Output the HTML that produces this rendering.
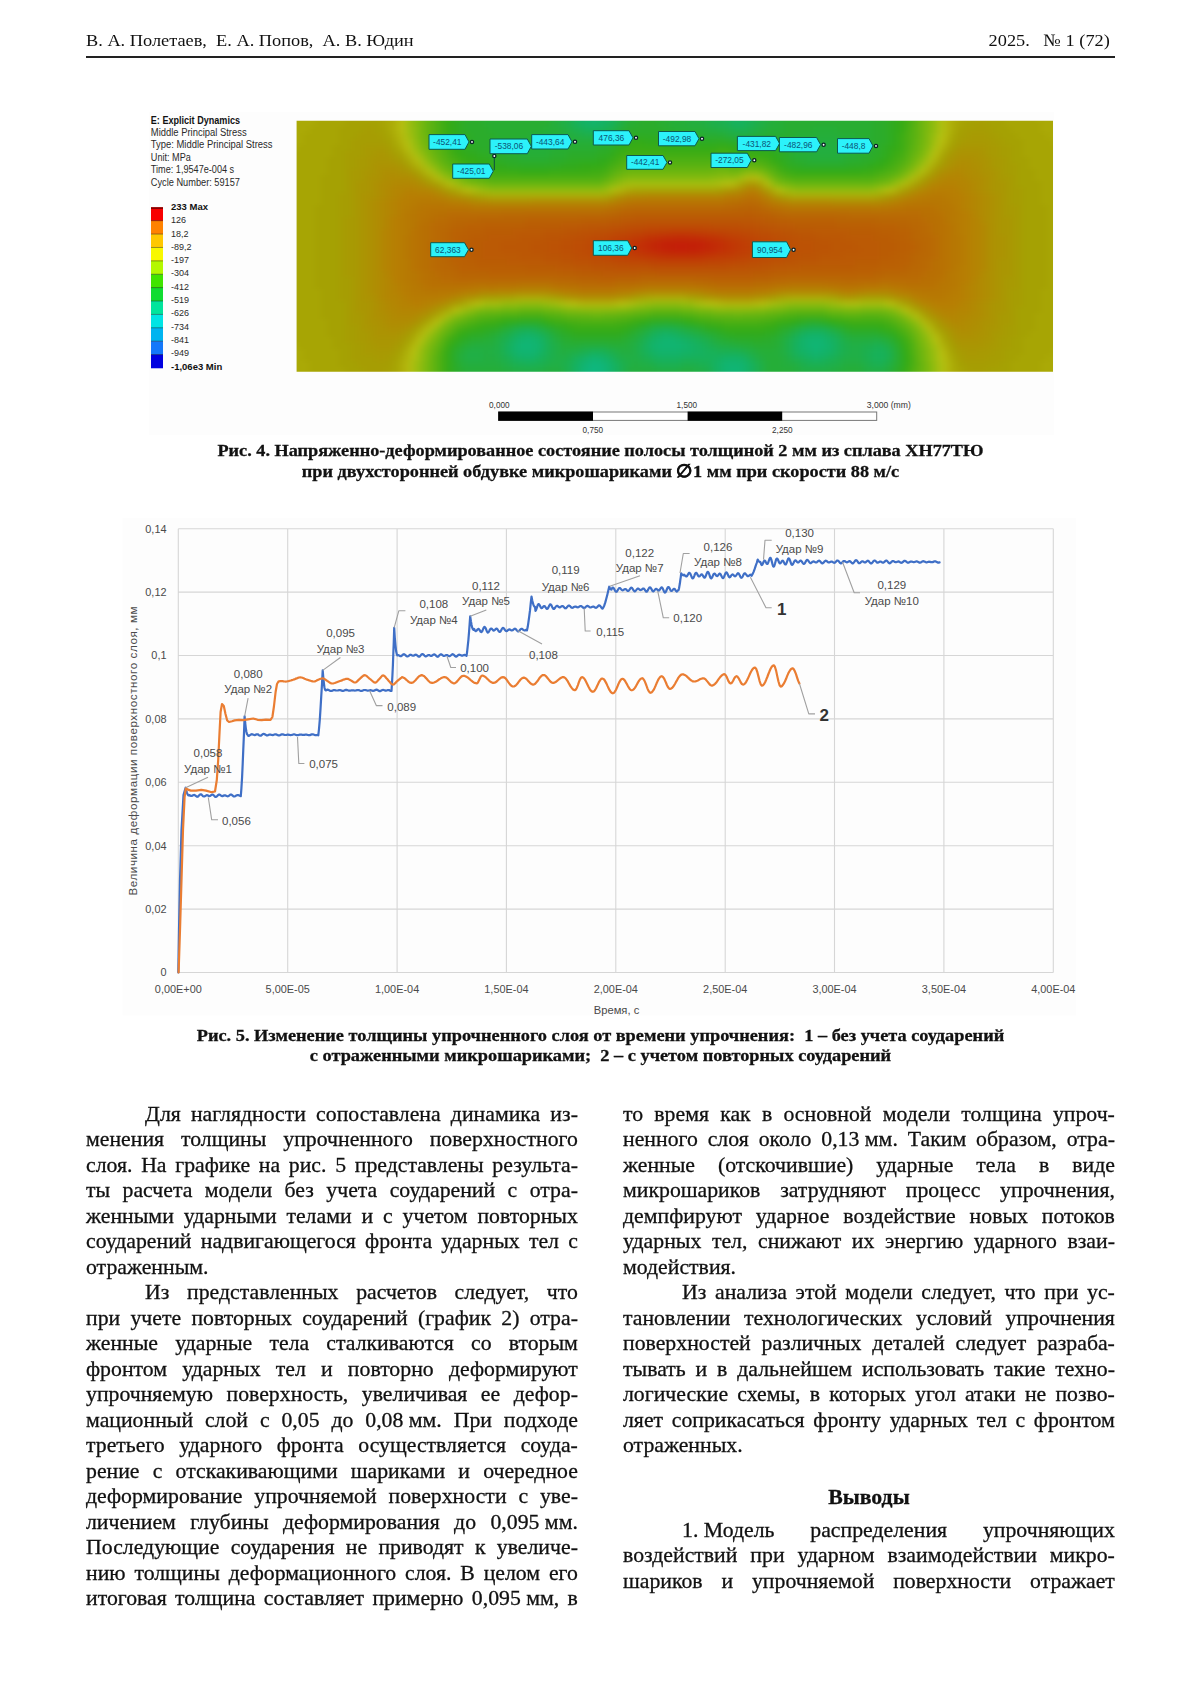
<!DOCTYPE html>
<html lang="ru">
<head>
<meta charset="utf-8">
<title>Page</title>
<style>
html,body{margin:0;padding:0;background:#fff;}
body{width:1200px;height:1698px;position:relative;overflow:hidden;font-family:"Liberation Serif",serif;color:#000;}
.abs{position:absolute;}
.hdr{position:absolute;top:29.3px;font-size:17.5px;line-height:22px;white-space:pre;color:#111;}
.rule{position:absolute;left:86px;top:55.6px;width:1029px;height:2px;background:#222;}
.cap{position:absolute;left:86px;width:1029px;text-align:center;font-weight:bold;font-size:17.5px;line-height:20.8px;white-space:pre;color:#111;transform:scaleX(1.039);transform-origin:50% 0;-webkit-text-stroke:0.3px #111;}
.col{position:absolute;width:483.2px;font-size:21.4px;line-height:25.5px;color:#111;transform:scaleX(1.018);transform-origin:0 0;-webkit-text-stroke:0.3px #111;}
.col p{margin:0;text-align:justify;text-align-last:justify;white-space:nowrap;}
.col p.l{text-align-last:left;}
.col p.i{text-indent:58px;}
.nb{display:inline-block;text-indent:0;white-space:pre;}
.col p.h{text-align:center;text-align-last:center;font-weight:bold;}
</style>
</head>
<body>
<div class="hdr" style="left:86px;transform:scaleX(1.047);transform-origin:0 0;">В. А. Полетаев,  Е. А. Попов,  А. В. Юдин</div>
<div class="hdr" style="right:90px;transform:scaleX(1.047);transform-origin:100% 0;">2025.   № 1 (72)</div>
<div class="rule"></div>

<!--FIG4-->
<svg class="abs" style="left:0;top:100px" width="1200" height="340" viewBox="0 100 1200 340" font-family="'Liberation Sans',sans-serif">
<defs><filter id="bl" color-interpolation-filters="sRGB" filterUnits="userSpaceOnUse" x="270" y="95" width="810" height="305"><feGaussianBlur stdDeviation="3.7"/></filter><clipPath id="cp"><rect x="296.6" y="120.8" width="756.4" height="251"/></clipPath></defs>
<rect x="149" y="112" width="905" height="323" fill="#fdfdfd"/>
<g clip-path="url(#cp)"><g filter="url(#bl)"><g transform="translate(279 103) scale(6)">
<path fill="#c41e08" d="M64 23h6v1h-6zM66 24h2v1h-2z"/>
<path fill="#c32007" d="M70 23h1v1h-1zM65 24h1v1h-1zM68 24h2v1h-2z"/>
<path fill="#c32207" d="M63 23h1v1h-1zM64 24h1v1h-1z"/>
<path fill="#c32507" d="M62 23h1v1h-1zM71 23h1v1h-1zM63 24h1v1h-1zM70 24h1v1h-1z"/>
<path fill="#c22706" d="M62 24h1v1h-1zM71 24h1v1h-1z"/>
<path fill="#c22a06" d="M66 22h2v1h-2zM61 23h1v1h-1zM72 23h1v1h-1zM72 24h1v1h-1z"/>
<path fill="#c22c06" d="M64 22h2v1h-2zM68 22h2v1h-2zM73 23h1v1h-1zM61 24h1v1h-1z"/>
<path fill="#c22f06" d="M63 22h1v1h-1zM70 22h1v1h-1zM60 23h1v1h-1zM60 24h1v1h-1zM73 24h1v1h-1z"/>
<path fill="#c13105" d="M62 22h1v1h-1zM71 22h1v1h-1zM59 23h1v1h-1zM74 23h1v1h-1zM64 25h6v1h-6z"/>
<path fill="#c13305" d="M61 22h1v1h-1zM72 22h1v1h-1zM59 24h1v1h-1zM74 24h1v1h-1zM63 25h1v1h-1zM70 25h1v1h-1z"/>
<path fill="#c13605" d="M73 22h1v1h-1zM58 23h1v1h-1zM75 23h1v1h-1zM58 24h1v1h-1zM75 24h1v1h-1zM62 25h1v1h-1zM71 25h1v1h-1z"/>
<path fill="#c13805" d="M60 22h1v1h-1zM76 23h1v1h-1zM61 25h1v1h-1zM72 25h1v1h-1z"/>
<path fill="#c03b05" d="M59 22h1v1h-1zM74 22h1v1h-1zM57 23h1v1h-1zM57 24h1v1h-1zM76 24h1v1h-1zM60 25h1v1h-1zM73 25h2v1h-2z"/>
<path fill="#c03d05" d="M65 21h4v1h-4zM58 22h1v1h-1zM75 22h1v1h-1zM56 23h1v1h-1zM77 23h1v1h-1zM56 24h1v1h-1zM77 24h1v1h-1zM59 25h1v1h-1zM75 25h1v1h-1z"/>
<path fill="#bf4005" d="M63 21h2v1h-2zM69 21h2v1h-2zM57 22h1v1h-1zM76 22h1v1h-1zM55 23h1v1h-1zM78 23h1v1h-1zM55 24h1v1h-1zM78 24h1v1h-1zM57 25h2v1h-2zM76 25h1v1h-1z"/>
<path fill="#bf4205" d="M61 21h2v1h-2zM71 21h2v1h-2zM56 22h1v1h-1zM77 22h1v1h-1zM54 23h1v1h-1zM79 23h1v1h-1zM54 24h1v1h-1zM79 24h1v1h-1zM56 25h1v1h-1zM77 25h1v1h-1zM63 26h8v1h-8z"/>
<path fill="#be4505" d="M59 21h2v1h-2zM73 21h2v1h-2zM55 22h1v1h-1zM78 22h1v1h-1zM53 23h1v1h-1zM80 23h1v1h-1zM53 24h1v1h-1zM80 24h1v1h-1zM55 25h1v1h-1zM78 25h1v1h-1zM61 26h2v1h-2zM71 26h3v1h-3z"/>
<path fill="#be4805" d="M58 21h1v1h-1zM75 21h2v1h-2zM54 22h1v1h-1zM79 22h1v1h-1zM52 23h1v1h-1zM81 23h1v1h-1zM52 24h1v1h-1zM81 24h1v1h-1zM54 25h1v1h-1zM79 25h1v1h-1zM58 26h3v1h-3zM74 26h2v1h-2z"/>
<path fill="#bd4a05" d="M56 21h2v1h-2zM77 21h2v1h-2zM52 22h2v1h-2zM80 22h2v1h-2zM51 23h1v1h-1zM82 23h1v1h-1zM51 24h1v1h-1zM82 24h1v1h-1zM52 25h2v1h-2zM80 25h1v1h-1zM56 26h2v1h-2zM76 26h2v1h-2z"/>
<path fill="#bd4d05" d="M61 20h11v1h-11zM55 21h1v1h-1zM79 21h1v1h-1zM51 22h1v1h-1zM82 22h1v1h-1zM49 23h2v1h-2zM83 23h2v1h-2zM49 24h2v1h-2zM83 24h2v1h-2zM50 25h2v1h-2zM81 25h2v1h-2zM54 26h2v1h-2zM78 26h2v1h-2z"/>
<path fill="#bc4f05" d="M58 20h3v1h-3zM72 20h5v1h-5zM53 21h2v1h-2zM80 21h2v1h-2zM49 22h2v1h-2zM83 22h2v1h-2zM47 23h2v1h-2zM85 23h1v1h-1zM47 24h2v1h-2zM85 24h1v1h-1zM49 25h1v1h-1zM83 25h2v1h-2zM52 26h2v1h-2zM80 26h2v1h-2zM62 27h13v1h-13z"/>
<path fill="#bc5205" d="M57 20h1v1h-1zM77 20h3v1h-3zM50 21h3v1h-3zM82 21h2v1h-2zM47 22h2v1h-2zM85 22h2v1h-2zM45 23h2v1h-2zM86 23h3v1h-3zM45 24h2v1h-2zM86 24h3v1h-3zM47 25h2v1h-2zM85 25h2v1h-2zM49 26h3v1h-3zM82 26h2v1h-2zM56 27h6v1h-6zM75 27h3v1h-3z"/>
<path fill="#bb5405" d="M55 20h2v1h-2zM80 20h1v1h-1zM48 21h2v1h-2zM84 21h2v1h-2zM44 22h3v1h-3zM87 22h3v1h-3zM42 23h3v1h-3zM89 23h3v1h-3zM42 24h3v1h-3zM89 24h3v1h-3zM44 25h3v1h-3zM87 25h3v1h-3zM47 26h2v1h-2zM84 26h2v1h-2zM52 27h4v1h-4zM78 27h3v1h-3z"/>
<path fill="#bb5705" d="M59 19h20v1h-20zM51 20h4v1h-4zM81 20h2v1h-2zM44 21h4v1h-4zM86 21h3v1h-3zM40 22h4v1h-4zM90 22h4v1h-4zM37 23h5v1h-5zM92 23h4v1h-4zM37 24h5v1h-5zM92 24h5v1h-5zM40 25h4v1h-4zM90 25h4v1h-4zM44 26h3v1h-3zM86 26h4v1h-4zM49 27h3v1h-3zM81 27h2v1h-2z"/>
<path fill="#bb5a05" d="M57 19h2v1h-2zM79 19h2v1h-2zM47 20h4v1h-4zM83 20h3v1h-3zM39 21h5v1h-5zM89 21h6v1h-6zM35 22h5v1h-5zM94 22h5v1h-5zM34 23h3v1h-3zM96 23h4v1h-4zM34 24h3v1h-3zM97 24h3v1h-3zM34 25h6v1h-6zM94 25h6v1h-6zM38 26h6v1h-6zM90 26h6v1h-6zM46 27h3v1h-3zM83 27h4v1h-4zM54 28h6v1h-6zM63 28h16v1h-16z"/>
<path fill="#ba5c04" d="M78 18h1v1h-1zM55 19h2v1h-2zM81 19h2v1h-2zM41 20h6v1h-6zM86 20h7v1h-7zM34 21h5v1h-5zM95 21h5v1h-5zM32 22h3v1h-3zM99 22h3v1h-3zM31 23h3v1h-3zM100 23h3v1h-3zM31 24h3v1h-3zM100 24h3v1h-3zM32 25h2v1h-2zM100 25h2v1h-2zM33 26h5v1h-5zM96 26h4v1h-4zM41 27h5v1h-5zM87 27h9v1h-9zM50 28h4v1h-4zM60 28h3v1h-3zM79 28h3v1h-3z"/>
<path fill="#ba5f04" d="M59 18h19v1h-19zM79 18h1v1h-1zM50 19h5v1h-5zM83 19h2v1h-2zM34 20h7v1h-7zM93 20h6v1h-6zM31 21h3v1h-3zM100 21h3v1h-3zM30 22h2v1h-2zM102 22h2v1h-2zM30 23h1v1h-1zM103 23h2v1h-2zM30 24h1v1h-1zM103 24h2v1h-2zM30 25h2v1h-2zM102 25h2v1h-2zM31 26h2v1h-2zM100 26h3v1h-3zM33 27h8v1h-8zM96 27h4v1h-4zM47 28h3v1h-3zM82 28h3v1h-3z"/>
<path fill="#ba6104" d="M57 18h2v1h-2zM80 18h2v1h-2zM41 19h9v1h-9zM85 19h8v1h-8zM31 20h3v1h-3zM99 20h4v1h-4zM29 21h2v1h-2zM103 21h2v1h-2zM29 22h1v1h-1zM104 22h1v1h-1zM29 23h1v1h-1zM105 23h1v1h-1zM29 24h1v1h-1zM105 24h1v1h-1zM29 25h1v1h-1zM104 25h1v1h-1zM29 26h2v1h-2zM103 26h2v1h-2zM30 27h3v1h-3zM100 27h4v1h-4zM35 28h12v1h-12zM85 28h14v1h-14zM53 29h3v1h-3zM72 29h7v1h-7z"/>
<path fill="#b96404" d="M76 17h4v1h-4zM56 18h1v1h-1zM82 18h1v1h-1zM33 19h8v1h-8zM93 19h7v1h-7zM29 20h2v1h-2zM103 20h2v1h-2zM28 21h1v1h-1zM105 21h1v1h-1zM28 22h1v1h-1zM105 22h1v1h-1zM28 23h1v1h-1zM106 23h1v1h-1zM28 24h1v1h-1zM106 24h1v1h-1zM28 25h1v1h-1zM105 25h1v1h-1zM28 26h1v1h-1zM105 26h1v1h-1zM29 27h1v1h-1zM104 27h1v1h-1zM30 28h5v1h-5zM99 28h2v1h-2zM49 29h4v1h-4zM56 29h4v1h-4zM69 29h3v1h-3zM79 29h3v1h-3z"/>
<path fill="#b96704" d="M74 17h2v1h-2zM80 17h1v1h-1zM54 18h2v1h-2zM83 18h1v1h-1zM29 19h4v1h-4zM100 19h5v1h-5zM28 20h1v1h-1zM105 20h2v1h-2zM27 21h1v1h-1zM106 21h1v1h-1zM27 22h1v1h-1zM106 22h2v1h-2zM27 23h1v1h-1zM107 23h1v1h-1zM26 24h2v1h-2zM107 24h1v1h-1zM27 25h1v1h-1zM106 25h2v1h-2zM27 26h1v1h-1zM106 26h1v1h-1zM27 27h2v1h-2zM105 27h2v1h-2zM29 28h1v1h-1zM101 28h4v1h-4zM46 29h3v1h-3zM60 29h9v1h-9zM82 29h2v1h-2zM94 29h2v1h-2z"/>
<path fill="#b96904" d="M78 16h1v1h-1zM58 17h16v1h-16zM37 18h17v1h-17zM84 18h11v1h-11zM28 19h1v1h-1zM105 19h2v1h-2zM26 20h2v1h-2zM107 20h1v1h-1zM26 21h1v1h-1zM107 21h1v1h-1zM26 22h1v1h-1zM108 22h1v1h-1zM25 23h2v1h-2zM108 23h1v1h-1zM25 24h1v1h-1zM108 24h1v1h-1zM26 25h1v1h-1zM108 25h1v1h-1zM26 26h1v1h-1zM107 26h1v1h-1zM26 27h1v1h-1zM107 27h1v1h-1zM27 28h2v1h-2zM105 28h2v1h-2zM29 29h17v1h-17zM84 29h10v1h-10zM96 29h4v1h-4z"/>
<path fill="#b96c04" d="M77 16h1v1h-1zM79 16h1v1h-1zM57 17h1v1h-1zM81 17h1v1h-1zM28 18h9v1h-9zM95 18h12v1h-12zM26 19h2v1h-2zM107 19h1v1h-1zM25 20h1v1h-1zM108 20h1v1h-1zM25 21h1v1h-1zM108 21h1v1h-1zM25 22h1v1h-1zM109 22h1v1h-1zM109 23h1v1h-1zM109 24h1v1h-1zM25 25h1v1h-1zM109 25h1v1h-1zM25 26h1v1h-1zM108 26h1v1h-1zM25 27h1v1h-1zM108 27h1v1h-1zM26 28h1v1h-1zM107 28h1v1h-1zM27 29h2v1h-2zM100 29h7v1h-7zM50 30h6v1h-6zM73 30h6v1h-6z"/>
<path fill="#b86f03" d="M75 16h2v1h-2zM56 17h1v1h-1zM82 17h1v1h-1zM26 18h2v1h-2zM107 18h2v1h-2zM25 19h1v1h-1zM108 19h2v1h-2zM24 20h1v1h-1zM109 20h1v1h-1zM24 21h1v1h-1zM109 21h1v1h-1zM24 22h1v1h-1zM24 23h1v1h-1zM24 24h1v1h-1zM24 25h1v1h-1zM24 26h1v1h-1zM109 26h1v1h-1zM24 27h1v1h-1zM109 27h1v1h-1zM25 28h1v1h-1zM108 28h2v1h-2zM25 29h2v1h-2zM107 29h2v1h-2zM48 30h2v1h-2zM56 30h3v1h-3zM71 30h2v1h-2zM79 30h3v1h-3z"/>
<path fill="#b87103" d="M74 16h1v1h-1zM80 16h1v1h-1zM55 17h1v1h-1zM83 17h1v1h-1zM104 17h5v1h-5zM25 18h1v1h-1zM109 18h1v1h-1zM24 19h1v1h-1zM110 19h1v1h-1zM23 20h1v1h-1zM110 20h1v1h-1zM23 21h1v1h-1zM110 21h1v1h-1zM23 22h1v1h-1zM110 22h1v1h-1zM23 23h1v1h-1zM110 23h1v1h-1zM23 24h1v1h-1zM110 24h1v1h-1zM23 25h1v1h-1zM110 25h1v1h-1zM23 26h1v1h-1zM110 26h1v1h-1zM23 27h1v1h-1zM110 27h1v1h-1zM24 28h1v1h-1zM110 28h1v1h-1zM24 29h1v1h-1zM109 29h1v1h-1zM25 30h7v1h-7zM35 30h1v1h-1zM46 30h2v1h-2zM59 30h2v1h-2zM69 30h2v1h-2zM82 30h1v1h-1zM93 30h4v1h-4zM104 30h5v1h-5z"/>
<path fill="#b87403" d="M78 15h2v1h-2zM59 16h15v1h-15zM24 17h8v1h-8zM54 17h1v1h-1zM84 17h1v1h-1zM102 17h2v1h-2zM109 17h1v1h-1zM23 18h2v1h-2zM110 18h1v1h-1zM23 19h1v1h-1zM111 20h1v1h-1zM22 21h1v1h-1zM111 21h1v1h-1zM22 22h1v1h-1zM111 22h1v1h-1zM22 23h1v1h-1zM111 23h1v1h-1zM22 24h1v1h-1zM111 24h1v1h-1zM22 25h1v1h-1zM111 25h1v1h-1zM22 26h1v1h-1zM111 26h1v1h-1zM22 27h1v1h-1zM111 27h1v1h-1zM23 28h1v1h-1zM23 29h1v1h-1zM110 29h1v1h-1zM24 30h1v1h-1zM32 30h3v1h-3zM36 30h4v1h-4zM45 30h1v1h-1zM61 30h8v1h-8zM83 30h2v1h-2zM91 30h2v1h-2zM97 30h3v1h-3zM102 30h2v1h-2zM109 30h1v1h-1z"/>
<path fill="#b77703" d="M77 15h1v1h-1zM58 16h1v1h-1zM81 16h1v1h-1zM106 16h5v1h-5zM23 17h1v1h-1zM32 17h22v1h-22zM85 17h14v1h-14zM100 17h2v1h-2zM110 17h2v1h-2zM22 18h1v1h-1zM111 18h1v1h-1zM22 19h1v1h-1zM111 19h1v1h-1zM22 20h1v1h-1zM112 20h1v1h-1zM112 21h1v1h-1zM21 22h1v1h-1zM112 22h1v1h-1zM21 23h1v1h-1zM112 23h1v1h-1zM21 24h1v1h-1zM112 24h1v1h-1zM21 25h1v1h-1zM112 25h1v1h-1zM112 26h1v1h-1zM112 27h1v1h-1zM22 28h1v1h-1zM111 28h1v1h-1zM22 29h1v1h-1zM111 29h1v1h-1zM23 30h1v1h-1zM40 30h5v1h-5zM85 30h6v1h-6zM100 30h2v1h-2zM110 30h2v1h-2zM24 31h5v1h-5zM106 31h5v1h-5z"/>
<path fill="#b77903" d="M108 15h3v1h-3zM23 16h5v1h-5zM57 16h1v1h-1zM104 16h2v1h-2zM111 16h1v1h-1zM22 17h1v1h-1zM99 17h1v1h-1zM112 17h1v1h-1zM21 18h1v1h-1zM112 18h1v1h-1zM21 19h1v1h-1zM112 19h1v1h-1zM21 20h1v1h-1zM21 21h1v1h-1zM113 22h1v1h-1zM113 23h1v1h-1zM113 24h1v1h-1zM113 25h1v1h-1zM21 26h1v1h-1zM113 26h1v1h-1zM21 27h1v1h-1zM21 28h1v1h-1zM112 28h1v1h-1zM21 29h1v1h-1zM112 29h1v1h-1zM22 30h1v1h-1zM112 30h1v1h-1zM22 31h2v1h-2zM29 31h1v1h-1zM50 31h6v1h-6zM73 31h6v1h-6zM105 31h1v1h-1zM111 31h1v1h-1zM108 32h3v1h-3z"/>
<path fill="#b77c03" d="M75 15h2v1h-2zM80 15h1v1h-1zM107 15h1v1h-1zM111 15h1v1h-1zM22 16h1v1h-1zM28 16h1v1h-1zM56 16h1v1h-1zM82 16h1v1h-1zM112 16h1v1h-1zM21 17h1v1h-1zM20 18h1v1h-1zM113 18h1v1h-1zM20 19h1v1h-1zM113 19h1v1h-1zM20 20h1v1h-1zM113 20h1v1h-1zM20 21h1v1h-1zM113 21h1v1h-1zM20 22h1v1h-1zM20 23h1v1h-1zM20 24h1v1h-1zM20 25h1v1h-1zM20 26h1v1h-1zM20 27h1v1h-1zM113 27h1v1h-1zM20 28h1v1h-1zM113 28h1v1h-1zM20 29h1v1h-1zM113 29h1v1h-1zM21 30h1v1h-1zM113 30h1v1h-1zM21 31h1v1h-1zM30 31h1v1h-1zM49 31h1v1h-1zM56 31h1v1h-1zM72 31h1v1h-1zM79 31h2v1h-2zM104 31h1v1h-1zM112 31h1v1h-1zM22 32h5v1h-5zM107 32h1v1h-1zM111 32h1v1h-1z"/>
<path fill="#b77e03" d="M78 14h1v1h-1zM109 14h4v1h-4zM21 15h5v1h-5zM74 15h1v1h-1zM106 15h1v1h-1zM112 15h2v1h-2zM20 16h2v1h-2zM29 16h2v1h-2zM103 16h1v1h-1zM113 16h1v1h-1zM20 17h1v1h-1zM113 17h1v1h-1zM114 18h1v1h-1zM19 19h1v1h-1zM114 19h1v1h-1zM19 20h1v1h-1zM114 20h1v1h-1zM19 21h1v1h-1zM114 21h1v1h-1zM19 22h1v1h-1zM114 22h1v1h-1zM19 23h1v1h-1zM114 23h1v1h-1zM19 24h1v1h-1zM114 24h1v1h-1zM19 25h1v1h-1zM114 25h1v1h-1zM19 26h1v1h-1zM114 26h1v1h-1zM19 27h1v1h-1zM114 27h1v1h-1zM19 28h1v1h-1zM114 28h1v1h-1zM19 29h1v1h-1zM114 29h1v1h-1zM20 30h1v1h-1zM20 31h1v1h-1zM31 31h2v1h-2zM47 31h2v1h-2zM57 31h2v1h-2zM71 31h1v1h-1zM81 31h1v1h-1zM94 31h2v1h-2zM103 31h1v1h-1zM113 31h1v1h-1zM21 32h1v1h-1zM27 32h1v1h-1zM106 32h1v1h-1zM112 32h2v1h-2zM22 33h2v1h-2zM109 33h4v1h-4z"/>
<path fill="#b58203" d="M110 13h3v1h-3zM21 14h2v1h-2zM79 14h1v1h-1zM108 14h1v1h-1zM113 14h1v1h-1zM20 15h1v1h-1zM26 15h1v1h-1zM105 15h1v1h-1zM114 15h1v1h-1zM19 16h1v1h-1zM31 16h1v1h-1zM55 16h1v1h-1zM83 16h1v1h-1zM102 16h1v1h-1zM114 16h1v1h-1zM19 17h1v1h-1zM114 17h1v1h-1zM19 18h1v1h-1zM115 18h1v1h-1zM18 19h1v1h-1zM115 19h1v1h-1zM18 20h1v1h-1zM115 20h1v1h-1zM18 21h1v1h-1zM115 21h1v1h-1zM18 22h1v1h-1zM115 22h1v1h-1zM18 23h1v1h-1zM115 23h1v1h-1zM18 24h1v1h-1zM115 24h1v1h-1zM18 25h1v1h-1zM115 25h1v1h-1zM18 26h1v1h-1zM115 26h1v1h-1zM18 27h1v1h-1zM115 27h1v1h-1zM18 28h1v1h-1zM115 28h1v1h-1zM115 29h1v1h-1zM19 30h1v1h-1zM114 30h1v1h-1zM19 31h1v1h-1zM33 31h1v1h-1zM35 31h1v1h-1zM46 31h1v1h-1zM59 31h1v1h-1zM70 31h1v1h-1zM82 31h1v1h-1zM93 31h1v1h-1zM96 31h2v1h-2zM102 31h1v1h-1zM114 31h1v1h-1zM20 32h1v1h-1zM28 32h1v1h-1zM114 32h1v1h-1zM20 33h2v1h-2zM24 33h2v1h-2zM108 33h1v1h-1zM113 33h1v1h-1zM110 34h3v1h-3z"/>
<path fill="#b48503" d="M111 12h3v1h-3zM109 13h1v1h-1zM113 13h2v1h-2zM19 14h2v1h-2zM23 14h2v1h-2zM107 14h1v1h-1zM114 14h1v1h-1zM19 15h1v1h-1zM27 15h1v1h-1zM61 15h13v1h-13zM81 15h1v1h-1zM115 15h1v1h-1zM18 16h1v1h-1zM32 16h1v1h-1zM84 16h1v1h-1zM101 16h1v1h-1zM115 16h1v1h-1zM18 17h1v1h-1zM115 17h1v1h-1zM18 18h1v1h-1zM116 19h1v1h-1zM116 20h1v1h-1zM17 21h1v1h-1zM116 21h1v1h-1zM17 22h1v1h-1zM116 22h1v1h-1zM17 23h1v1h-1zM116 23h1v1h-1zM17 24h1v1h-1zM116 24h1v1h-1zM17 25h1v1h-1zM116 25h1v1h-1zM17 26h1v1h-1zM116 26h1v1h-1zM17 27h1v1h-1zM116 27h1v1h-1zM116 28h1v1h-1zM18 29h1v1h-1zM18 30h1v1h-1zM115 30h1v1h-1zM18 31h1v1h-1zM34 31h1v1h-1zM36 31h3v1h-3zM45 31h1v1h-1zM60 31h1v1h-1zM68 31h2v1h-2zM83 31h1v1h-1zM92 31h1v1h-1zM98 31h4v1h-4zM115 31h1v1h-1zM18 32h2v1h-2zM105 32h1v1h-1zM115 32h1v1h-1zM19 33h1v1h-1zM107 33h1v1h-1zM114 33h1v1h-1zM20 34h4v1h-4zM109 34h1v1h-1zM113 34h2v1h-2zM111 35h2v1h-2z"/>
<path fill="#b28803" d="M112 11h2v1h-2zM110 12h1v1h-1zM114 12h1v1h-1zM19 13h4v1h-4zM108 13h1v1h-1zM115 13h1v1h-1zM18 14h1v1h-1zM25 14h1v1h-1zM77 14h1v1h-1zM115 14h1v1h-1zM18 15h1v1h-1zM58 15h3v1h-3zM104 15h1v1h-1zM116 15h1v1h-1zM17 16h1v1h-1zM33 16h2v1h-2zM42 16h13v1h-13zM85 16h7v1h-7zM100 16h1v1h-1zM116 16h1v1h-1zM17 17h1v1h-1zM116 17h1v1h-1zM17 18h1v1h-1zM116 18h1v1h-1zM17 19h1v1h-1zM17 20h1v1h-1zM117 20h1v1h-1zM117 21h1v1h-1zM117 22h1v1h-1zM117 23h1v1h-1zM117 24h1v1h-1zM117 25h1v1h-1zM117 26h1v1h-1zM117 27h1v1h-1zM17 28h1v1h-1zM17 29h1v1h-1zM116 29h1v1h-1zM17 30h1v1h-1zM116 30h1v1h-1zM17 31h1v1h-1zM39 31h6v1h-6zM61 31h7v1h-7zM84 31h8v1h-8zM116 31h1v1h-1zM17 32h1v1h-1zM29 32h1v1h-1zM116 32h1v1h-1zM18 33h1v1h-1zM26 33h1v1h-1zM115 33h1v1h-1zM18 34h2v1h-2zM24 34h1v1h-1zM115 34h1v1h-1zM19 35h4v1h-4zM110 35h1v1h-1zM113 35h2v1h-2zM112 36h2v1h-2z"/>
<path fill="#b08c03" d="M113 10h2v1h-2zM111 11h1v1h-1zM114 11h2v1h-2zM18 12h4v1h-4zM115 12h2v1h-2zM17 13h2v1h-2zM23 13h1v1h-1zM116 13h1v1h-1zM17 14h1v1h-1zM106 14h1v1h-1zM116 14h1v1h-1zM17 15h1v1h-1zM28 15h1v1h-1zM117 15h1v1h-1zM16 16h1v1h-1zM35 16h7v1h-7zM92 16h8v1h-8zM117 16h1v1h-1zM16 17h1v1h-1zM117 17h1v1h-1zM16 18h1v1h-1zM117 18h1v1h-1zM16 19h1v1h-1zM117 19h1v1h-1zM16 20h1v1h-1zM16 21h1v1h-1zM16 22h1v1h-1zM16 23h1v1h-1zM16 24h1v1h-1zM16 25h1v1h-1zM16 26h1v1h-1zM16 27h1v1h-1zM16 28h1v1h-1zM117 28h1v1h-1zM16 29h1v1h-1zM117 29h1v1h-1zM16 30h1v1h-1zM117 30h1v1h-1zM16 31h1v1h-1zM117 31h1v1h-1zM16 32h1v1h-1zM30 32h1v1h-1zM104 32h1v1h-1zM117 32h1v1h-1zM17 33h1v1h-1zM27 33h1v1h-1zM106 33h1v1h-1zM116 33h1v1h-1zM17 34h1v1h-1zM108 34h1v1h-1zM116 34h1v1h-1zM18 35h1v1h-1zM115 35h2v1h-2zM18 36h4v1h-4zM111 36h1v1h-1zM114 36h2v1h-2zM113 37h2v1h-2z"/>
<path fill="#ae8f03" d="M113 9h3v1h-3zM112 10h1v1h-1zM115 10h2v1h-2zM17 11h3v1h-3zM110 11h1v1h-1zM116 11h1v1h-1zM17 12h1v1h-1zM22 12h1v1h-1zM109 12h1v1h-1zM117 12h1v1h-1zM16 13h1v1h-1zM117 13h1v1h-1zM16 14h1v1h-1zM26 14h1v1h-1zM76 14h1v1h-1zM80 14h1v1h-1zM117 14h1v1h-1zM16 15h1v1h-1zM29 15h1v1h-1zM57 15h1v1h-1zM103 15h1v1h-1zM118 15h1v1h-1zM15 16h1v1h-1zM118 16h1v1h-1zM15 17h1v1h-1zM118 17h1v1h-1zM15 18h1v1h-1zM118 18h1v1h-1zM15 19h1v1h-1zM118 19h1v1h-1zM15 20h1v1h-1zM118 20h1v1h-1zM15 21h1v1h-1zM118 21h1v1h-1zM15 22h1v1h-1zM118 22h1v1h-1zM15 23h1v1h-1zM118 23h1v1h-1zM15 24h1v1h-1zM118 24h1v1h-1zM15 25h1v1h-1zM118 25h1v1h-1zM15 26h1v1h-1zM118 26h1v1h-1zM15 27h1v1h-1zM118 27h1v1h-1zM15 28h1v1h-1zM118 28h1v1h-1zM15 29h1v1h-1zM118 29h1v1h-1zM15 30h1v1h-1zM118 30h1v1h-1zM15 31h1v1h-1zM118 31h1v1h-1zM50 32h6v1h-6zM74 32h5v1h-5zM103 32h1v1h-1zM118 32h1v1h-1zM16 33h1v1h-1zM117 33h1v1h-1zM16 34h1v1h-1zM25 34h1v1h-1zM117 34h1v1h-1zM16 35h2v1h-2zM23 35h1v1h-1zM109 35h1v1h-1zM117 35h1v1h-1zM17 36h1v1h-1zM22 36h1v1h-1zM116 36h1v1h-1zM18 37h3v1h-3zM112 37h1v1h-1zM115 37h2v1h-2zM113 38h3v1h-3z"/>
<path fill="#ac9303" d="M113 8h4v1h-4zM112 9h1v1h-1zM116 9h2v1h-2zM16 10h4v1h-4zM111 10h1v1h-1zM117 10h1v1h-1zM16 11h1v1h-1zM20 11h2v1h-2zM117 11h2v1h-2zM15 12h2v1h-2zM118 12h1v1h-1zM15 13h1v1h-1zM24 13h1v1h-1zM107 13h1v1h-1zM118 13h1v1h-1zM15 14h1v1h-1zM105 14h1v1h-1zM118 14h1v1h-1zM14 15h2v1h-2zM82 15h1v1h-1zM119 15h1v1h-1zM14 16h1v1h-1zM119 16h1v1h-1zM14 17h1v1h-1zM119 17h1v1h-1zM14 18h1v1h-1zM119 18h1v1h-1zM14 19h1v1h-1zM119 19h1v1h-1zM14 20h1v1h-1zM119 20h1v1h-1zM14 21h1v1h-1zM119 21h1v1h-1zM14 22h1v1h-1zM119 22h2v1h-2zM14 23h1v1h-1zM119 23h2v1h-2zM14 24h1v1h-1zM119 24h2v1h-2zM14 25h1v1h-1zM119 25h2v1h-2zM14 26h1v1h-1zM119 26h1v1h-1zM14 27h1v1h-1zM119 27h1v1h-1zM14 28h1v1h-1zM119 28h1v1h-1zM14 29h1v1h-1zM119 29h1v1h-1zM14 30h1v1h-1zM119 30h1v1h-1zM14 31h1v1h-1zM119 31h1v1h-1zM14 32h2v1h-2zM31 32h1v1h-1zM49 32h1v1h-1zM56 32h1v1h-1zM73 32h1v1h-1zM79 32h1v1h-1zM119 32h1v1h-1zM15 33h1v1h-1zM118 33h1v1h-1zM15 34h1v1h-1zM107 34h1v1h-1zM118 34h1v1h-1zM15 35h1v1h-1zM24 35h1v1h-1zM118 35h1v1h-1zM15 36h2v1h-2zM110 36h1v1h-1zM117 36h2v1h-2zM16 37h2v1h-2zM21 37h1v1h-1zM111 37h1v1h-1zM117 37h1v1h-1zM16 38h4v1h-4zM112 38h1v1h-1zM116 38h2v1h-2zM113 39h4v1h-4z"/>
<path fill="#aa9603" d="M113 7h5v1h-5zM16 8h2v1h-2zM112 8h1v1h-1zM117 8h1v1h-1zM15 9h4v1h-4zM111 9h1v1h-1zM118 9h1v1h-1zM15 10h1v1h-1zM20 10h1v1h-1zM118 10h1v1h-1zM14 11h2v1h-2zM109 11h1v1h-1zM119 11h1v1h-1zM14 12h1v1h-1zM23 12h1v1h-1zM108 12h1v1h-1zM119 12h1v1h-1zM13 13h2v1h-2zM78 13h1v1h-1zM119 13h2v1h-2zM13 14h2v1h-2zM27 14h1v1h-1zM75 14h1v1h-1zM119 14h2v1h-2zM13 15h1v1h-1zM30 15h1v1h-1zM56 15h1v1h-1zM102 15h1v1h-1zM120 15h1v1h-1zM13 16h1v1h-1zM120 16h1v1h-1zM13 17h1v1h-1zM120 17h1v1h-1zM13 18h1v1h-1zM120 18h1v1h-1zM13 19h1v1h-1zM120 19h2v1h-2zM13 20h1v1h-1zM120 20h2v1h-2zM13 21h1v1h-1zM120 21h2v1h-2zM13 22h1v1h-1zM121 22h1v1h-1zM13 23h1v1h-1zM121 23h1v1h-1zM13 24h1v1h-1zM121 24h1v1h-1zM13 25h1v1h-1zM121 25h1v1h-1zM13 26h1v1h-1zM120 26h2v1h-2zM13 27h1v1h-1zM120 27h2v1h-2zM13 28h1v1h-1zM120 28h2v1h-2zM13 29h1v1h-1zM120 29h1v1h-1zM13 30h1v1h-1zM120 30h1v1h-1zM13 31h1v1h-1zM120 31h1v1h-1zM13 32h1v1h-1zM32 32h1v1h-1zM48 32h1v1h-1zM57 32h1v1h-1zM72 32h1v1h-1zM80 32h1v1h-1zM102 32h1v1h-1zM120 32h1v1h-1zM13 33h2v1h-2zM28 33h1v1h-1zM105 33h1v1h-1zM119 33h2v1h-2zM13 34h2v1h-2zM26 34h1v1h-1zM119 34h2v1h-2zM14 35h1v1h-1zM108 35h1v1h-1zM119 35h1v1h-1zM14 36h1v1h-1zM23 36h1v1h-1zM119 36h1v1h-1zM14 37h2v1h-2zM118 37h2v1h-2zM15 38h1v1h-1zM20 38h1v1h-1zM118 38h1v1h-1zM15 39h5v1h-5zM112 39h1v1h-1zM117 39h2v1h-2zM16 40h3v1h-3zM113 40h5v1h-5zM115 41h1v1h-1z"/>
<path fill="#a89a03" d="M115 5h3v1h-3zM114 6h5v1h-5zM14 7h4v1h-4zM118 7h2v1h-2zM14 8h2v1h-2zM18 8h1v1h-1zM118 8h2v1h-2zM13 9h2v1h-2zM19 9h1v1h-1zM119 9h2v1h-2zM13 10h2v1h-2zM110 10h1v1h-1zM119 10h2v1h-2zM12 11h2v1h-2zM22 11h1v1h-1zM120 11h1v1h-1zM12 12h2v1h-2zM120 12h2v1h-2zM12 13h1v1h-1zM25 13h1v1h-1zM79 13h1v1h-1zM121 13h1v1h-1zM12 14h1v1h-1zM74 14h1v1h-1zM121 14h1v1h-1zM12 15h1v1h-1zM31 15h1v1h-1zM121 15h1v1h-1zM12 16h1v1h-1zM121 16h1v1h-1zM12 17h1v1h-1zM121 17h2v1h-2zM12 18h1v1h-1zM121 18h2v1h-2zM11 19h2v1h-2zM122 19h1v1h-1zM11 20h2v1h-2zM122 20h1v1h-1zM11 21h2v1h-2zM122 21h1v1h-1zM11 22h2v1h-2zM122 22h1v1h-1zM11 23h2v1h-2zM122 23h1v1h-1zM11 24h2v1h-2zM122 24h1v1h-1zM11 25h2v1h-2zM122 25h1v1h-1zM11 26h2v1h-2zM122 26h1v1h-1zM11 27h2v1h-2zM122 27h1v1h-1zM11 28h2v1h-2zM122 28h1v1h-1zM12 29h1v1h-1zM121 29h2v1h-2zM12 30h1v1h-1zM121 30h2v1h-2zM12 31h1v1h-1zM121 31h1v1h-1zM12 32h1v1h-1zM47 32h1v1h-1zM58 32h1v1h-1zM71 32h1v1h-1zM81 32h1v1h-1zM94 32h2v1h-2zM121 32h1v1h-1zM12 33h1v1h-1zM121 33h1v1h-1zM12 34h1v1h-1zM121 34h1v1h-1zM12 35h2v1h-2zM120 35h2v1h-2zM12 36h2v1h-2zM109 36h1v1h-1zM120 36h2v1h-2zM13 37h1v1h-1zM22 37h1v1h-1zM110 37h1v1h-1zM120 37h1v1h-1zM13 38h2v1h-2zM21 38h1v1h-1zM111 38h1v1h-1zM119 38h2v1h-2zM13 39h2v1h-2zM20 39h1v1h-1zM119 39h1v1h-1zM14 40h2v1h-2zM19 40h1v1h-1zM118 40h2v1h-2zM14 41h5v1h-5zM113 41h2v1h-2zM116 41h3v1h-3zM16 42h2v1h-2zM114 42h4v1h-4z"/>
<path fill="#a69d03" d="M116 3h2v1h-2zM14 4h2v1h-2zM114 4h5v1h-5zM13 5h4v1h-4zM113 5h2v1h-2zM118 5h2v1h-2zM12 6h6v1h-6zM113 6h1v1h-1zM119 6h2v1h-2zM12 7h2v1h-2zM18 7h1v1h-1zM112 7h1v1h-1zM120 7h2v1h-2zM11 8h3v1h-3zM19 8h1v1h-1zM111 8h1v1h-1zM120 8h2v1h-2zM11 9h2v1h-2zM20 9h1v1h-1zM121 9h1v1h-1zM11 10h2v1h-2zM21 10h1v1h-1zM121 10h2v1h-2zM11 11h1v1h-1zM121 11h2v1h-2zM11 12h1v1h-1zM122 12h1v1h-1zM11 13h1v1h-1zM106 13h1v1h-1zM122 13h1v1h-1zM11 14h1v1h-1zM81 14h1v1h-1zM104 14h1v1h-1zM122 14h2v1h-2zM10 15h2v1h-2zM83 15h1v1h-1zM101 15h1v1h-1zM122 15h2v1h-2zM10 16h2v1h-2zM122 16h2v1h-2zM10 17h2v1h-2zM123 17h1v1h-1zM10 18h2v1h-2zM123 18h1v1h-1zM10 19h1v1h-1zM123 19h1v1h-1zM10 20h1v1h-1zM123 20h1v1h-1zM10 21h1v1h-1zM123 21h1v1h-1zM10 22h1v1h-1zM123 22h1v1h-1zM10 23h1v1h-1zM123 23h1v1h-1zM10 24h1v1h-1zM123 24h1v1h-1zM10 25h1v1h-1zM123 25h1v1h-1zM10 26h1v1h-1zM123 26h1v1h-1zM10 27h1v1h-1zM123 27h1v1h-1zM10 28h1v1h-1zM123 28h1v1h-1zM10 29h2v1h-2zM123 29h1v1h-1zM10 30h2v1h-2zM123 30h1v1h-1zM10 31h2v1h-2zM122 31h2v1h-2zM10 32h2v1h-2zM33 32h1v1h-1zM70 32h1v1h-1zM82 32h1v1h-1zM93 32h1v1h-1zM96 32h1v1h-1zM101 32h1v1h-1zM122 32h2v1h-2zM11 33h1v1h-1zM29 33h1v1h-1zM122 33h2v1h-2zM11 34h1v1h-1zM122 34h1v1h-1zM11 35h1v1h-1zM25 35h1v1h-1zM122 35h1v1h-1zM11 36h1v1h-1zM122 36h1v1h-1zM11 37h2v1h-2zM121 37h2v1h-2zM11 38h2v1h-2zM121 38h2v1h-2zM11 39h2v1h-2zM120 39h2v1h-2zM12 40h2v1h-2zM20 40h1v1h-1zM112 40h1v1h-1zM120 40h2v1h-2zM12 41h2v1h-2zM19 41h1v1h-1zM119 41h2v1h-2zM12 42h4v1h-4zM18 42h1v1h-1zM113 42h1v1h-1zM118 42h3v1h-3zM13 43h6v1h-6zM114 43h6v1h-6zM14 44h4v1h-4zM115 44h3v1h-3zM15 45h2v1h-2zM15 46h2v1h-2zM15 47h2v1h-2z"/>
<path fill="#a5a103" d="M11 0h6v1h-6zM114 0h7v1h-7zM11 1h6v1h-6zM114 1h7v1h-7zM11 2h6v1h-6zM114 2h7v1h-7zM11 3h6v1h-6zM114 3h2v1h-2zM118 3h3v1h-3zM10 4h4v1h-4zM16 4h2v1h-2zM113 4h1v1h-1zM119 4h3v1h-3zM10 5h3v1h-3zM17 5h1v1h-1zM120 5h3v1h-3zM10 6h2v1h-2zM18 6h1v1h-1zM112 6h1v1h-1zM121 6h3v1h-3zM9 7h3v1h-3zM122 7h2v1h-2zM9 8h2v1h-2zM122 8h2v1h-2zM8 9h3v1h-3zM110 9h1v1h-1zM122 9h3v1h-3zM8 10h3v1h-3zM123 10h2v1h-2zM8 11h3v1h-3zM123 11h3v1h-3zM7 12h4v1h-4zM24 12h1v1h-1zM107 12h1v1h-1zM123 12h3v1h-3zM7 13h4v1h-4zM26 13h1v1h-1zM77 13h1v1h-1zM123 13h4v1h-4zM7 14h4v1h-4zM28 14h1v1h-1zM73 14h1v1h-1zM124 14h3v1h-3zM7 15h3v1h-3zM32 15h1v1h-1zM55 15h1v1h-1zM124 15h3v1h-3zM7 16h3v1h-3zM124 16h3v1h-3zM6 17h4v1h-4zM124 17h4v1h-4zM6 18h4v1h-4zM124 18h4v1h-4zM6 19h4v1h-4zM124 19h4v1h-4zM6 20h4v1h-4zM124 20h4v1h-4zM6 21h4v1h-4zM124 21h4v1h-4zM6 22h4v1h-4zM124 22h4v1h-4zM6 23h4v1h-4zM124 23h4v1h-4zM6 24h4v1h-4zM124 24h4v1h-4zM6 25h4v1h-4zM124 25h4v1h-4zM6 26h4v1h-4zM124 26h4v1h-4zM6 27h4v1h-4zM124 27h4v1h-4zM6 28h4v1h-4zM124 28h4v1h-4zM6 29h4v1h-4zM124 29h4v1h-4zM6 30h4v1h-4zM124 30h4v1h-4zM7 31h3v1h-3zM124 31h3v1h-3zM7 32h3v1h-3zM34 32h3v1h-3zM46 32h1v1h-1zM59 32h1v1h-1zM69 32h1v1h-1zM97 32h4v1h-4zM124 32h3v1h-3zM7 33h4v1h-4zM104 33h1v1h-1zM124 33h3v1h-3zM7 34h4v1h-4zM27 34h1v1h-1zM106 34h1v1h-1zM123 34h4v1h-4zM7 35h4v1h-4zM123 35h3v1h-3zM8 36h3v1h-3zM24 36h1v1h-1zM123 36h3v1h-3zM8 37h3v1h-3zM123 37h3v1h-3zM8 38h3v1h-3zM123 38h2v1h-2zM9 39h2v1h-2zM21 39h1v1h-1zM111 39h1v1h-1zM122 39h2v1h-2zM9 40h3v1h-3zM122 40h2v1h-2zM10 41h2v1h-2zM112 41h1v1h-1zM121 41h3v1h-3zM10 42h2v1h-2zM19 42h1v1h-1zM121 42h2v1h-2zM10 43h3v1h-3zM113 43h1v1h-1zM120 43h2v1h-2zM11 44h3v1h-3zM18 44h1v1h-1zM114 44h1v1h-1zM118 44h4v1h-4zM11 45h4v1h-4zM17 45h2v1h-2zM114 45h7v1h-7zM11 46h4v1h-4zM17 46h2v1h-2zM114 46h7v1h-7zM11 47h4v1h-4zM17 47h2v1h-2zM114 47h7v1h-7z"/>
<path fill="#a7a504" d="M6 0h5v1h-5zM17 0h1v1h-1zM113 0h1v1h-1zM121 0h5v1h-5zM6 1h5v1h-5zM17 1h1v1h-1zM113 1h1v1h-1zM121 1h5v1h-5zM6 2h5v1h-5zM17 2h1v1h-1zM113 2h1v1h-1zM121 2h5v1h-5zM6 3h5v1h-5zM17 3h1v1h-1zM113 3h1v1h-1zM121 3h6v1h-6zM5 4h5v1h-5zM122 4h5v1h-5zM4 5h6v1h-6zM18 5h1v1h-1zM112 5h1v1h-1zM123 5h5v1h-5zM4 6h6v1h-6zM124 6h5v1h-5zM3 7h6v1h-6zM19 7h1v1h-1zM111 7h1v1h-1zM124 7h8v1h-8zM0 8h9v1h-9zM20 8h1v1h-1zM124 8h8v1h-8zM0 9h8v1h-8zM125 9h7v1h-7zM0 10h8v1h-8zM109 10h1v1h-1zM125 10h7v1h-7zM0 11h8v1h-8zM23 11h1v1h-1zM108 11h1v1h-1zM126 11h6v1h-6zM0 12h7v1h-7zM126 12h6v1h-6zM0 13h7v1h-7zM127 13h5v1h-5zM0 14h7v1h-7zM59 14h14v1h-14zM127 14h5v1h-5zM0 15h7v1h-7zM33 15h1v1h-1zM84 15h1v1h-1zM100 15h1v1h-1zM127 15h5v1h-5zM0 16h7v1h-7zM127 16h5v1h-5zM0 17h6v1h-6zM128 17h4v1h-4zM0 18h6v1h-6zM128 18h4v1h-4zM0 19h6v1h-6zM128 19h4v1h-4zM0 20h6v1h-6zM128 20h4v1h-4zM0 21h6v1h-6zM128 21h4v1h-4zM0 22h6v1h-6zM128 22h4v1h-4zM0 23h6v1h-6zM128 23h4v1h-4zM0 24h6v1h-6zM128 24h4v1h-4zM0 25h6v1h-6zM128 25h4v1h-4zM0 26h6v1h-6zM128 26h4v1h-4zM0 27h6v1h-6zM128 27h4v1h-4zM0 28h6v1h-6zM128 28h4v1h-4zM0 29h6v1h-6zM128 29h4v1h-4zM0 30h6v1h-6zM128 30h4v1h-4zM0 31h7v1h-7zM127 31h5v1h-5zM0 32h7v1h-7zM37 32h2v1h-2zM45 32h1v1h-1zM60 32h1v1h-1zM68 32h1v1h-1zM83 32h1v1h-1zM92 32h1v1h-1zM127 32h5v1h-5zM0 33h7v1h-7zM30 33h1v1h-1zM127 33h5v1h-5zM0 34h7v1h-7zM127 34h5v1h-5zM0 35h7v1h-7zM107 35h1v1h-1zM126 35h6v1h-6zM0 36h8v1h-8zM126 36h6v1h-6zM0 37h8v1h-8zM23 37h1v1h-1zM109 37h1v1h-1zM126 37h6v1h-6zM0 38h8v1h-8zM22 38h1v1h-1zM110 38h1v1h-1zM125 38h7v1h-7zM0 39h9v1h-9zM124 39h8v1h-8zM3 40h6v1h-6zM111 40h1v1h-1zM124 40h8v1h-8zM4 41h6v1h-6zM20 41h1v1h-1zM124 41h5v1h-5zM4 42h6v1h-6zM112 42h1v1h-1zM123 42h5v1h-5zM5 43h5v1h-5zM19 43h1v1h-1zM122 43h5v1h-5zM5 44h6v1h-6zM19 44h1v1h-1zM113 44h1v1h-1zM122 44h5v1h-5zM6 45h5v1h-5zM19 45h1v1h-1zM113 45h1v1h-1zM121 45h5v1h-5zM6 46h5v1h-5zM19 46h1v1h-1zM113 46h1v1h-1zM121 46h5v1h-5zM6 47h5v1h-5zM19 47h1v1h-1zM113 47h1v1h-1zM121 47h5v1h-5z"/>
<path fill="#aaa906" d="M0 0h6v1h-6zM18 0h1v1h-1zM126 0h6v1h-6zM0 1h6v1h-6zM18 1h1v1h-1zM126 1h6v1h-6zM0 2h6v1h-6zM18 2h1v1h-1zM126 2h6v1h-6zM0 3h6v1h-6zM18 3h1v1h-1zM112 3h1v1h-1zM127 3h5v1h-5zM0 4h5v1h-5zM18 4h1v1h-1zM112 4h1v1h-1zM127 4h5v1h-5zM0 5h4v1h-4zM128 5h4v1h-4zM0 6h4v1h-4zM19 6h1v1h-1zM129 6h3v1h-3zM0 7h3v1h-3zM110 8h1v1h-1zM21 9h1v1h-1zM22 10h1v1h-1zM80 13h1v1h-1zM105 13h1v1h-1zM29 14h1v1h-1zM58 14h1v1h-1zM103 14h1v1h-1zM34 15h1v1h-1zM54 15h1v1h-1zM99 15h1v1h-1zM39 32h1v1h-1zM44 32h1v1h-1zM61 32h1v1h-1zM84 32h1v1h-1zM91 32h1v1h-1zM26 35h1v1h-1zM108 36h1v1h-1zM0 40h3v1h-3zM21 40h1v1h-1zM0 41h4v1h-4zM129 41h3v1h-3zM0 42h4v1h-4zM20 42h1v1h-1zM128 42h4v1h-4zM0 43h5v1h-5zM112 43h1v1h-1zM127 43h5v1h-5zM0 44h5v1h-5zM112 44h1v1h-1zM127 44h5v1h-5zM0 45h6v1h-6zM112 45h1v1h-1zM126 45h6v1h-6zM0 46h6v1h-6zM112 46h1v1h-1zM126 46h6v1h-6zM0 47h6v1h-6zM112 47h1v1h-1zM126 47h6v1h-6z"/>
<path fill="#adad08" d="M112 0h1v1h-1zM112 1h1v1h-1zM112 2h1v1h-1zM19 5h1v1h-1zM111 6h1v1h-1zM20 7h1v1h-1zM25 12h1v1h-1zM35 15h19v1h-19zM85 15h14v1h-14zM40 32h4v1h-4zM62 32h6v1h-6zM85 32h6v1h-6zM103 33h1v1h-1zM28 34h1v1h-1zM105 34h1v1h-1zM22 39h1v1h-1zM110 39h1v1h-1zM111 41h1v1h-1zM20 43h1v1h-1zM20 44h1v1h-1zM20 45h1v1h-1zM20 46h1v1h-1zM20 47h1v1h-1z"/>
<path fill="#afb20a" d="M19 0h1v1h-1zM19 1h1v1h-1zM19 2h1v1h-1zM19 3h1v1h-1zM19 4h1v1h-1zM111 5h1v1h-1zM21 8h1v1h-1zM109 9h1v1h-1zM106 12h1v1h-1zM27 13h1v1h-1zM76 13h1v1h-1zM57 14h1v1h-1zM82 14h1v1h-1zM31 33h1v1h-1zM25 36h1v1h-1zM23 38h1v1h-1zM21 41h1v1h-1zM111 42h1v1h-1z"/>
<path fill="#b2b60c" d="M111 0h1v1h-1zM111 1h1v1h-1zM111 2h1v1h-1zM111 3h1v1h-1zM111 4h1v1h-1zM20 6h1v1h-1zM110 7h1v1h-1zM22 9h1v1h-1zM23 10h1v1h-1zM108 10h1v1h-1zM24 11h1v1h-1zM30 14h1v1h-1zM50 33h6v1h-6zM74 33h5v1h-5zM24 37h1v1h-1zM109 38h1v1h-1zM110 40h1v1h-1zM21 42h1v1h-1zM111 43h1v1h-1zM111 44h1v1h-1zM111 45h1v1h-1zM111 46h1v1h-1zM111 47h1v1h-1z"/>
<path fill="#b5ba0e" d="M20 5h1v1h-1zM107 11h1v1h-1zM78 12h1v1h-1zM104 13h1v1h-1zM56 14h1v1h-1zM102 14h1v1h-1zM32 33h1v1h-1zM73 33h1v1h-1zM79 33h1v1h-1zM102 33h1v1h-1zM27 35h1v1h-1zM106 35h1v1h-1zM107 36h1v1h-1zM108 37h1v1h-1zM22 40h1v1h-1zM21 43h1v1h-1zM21 44h1v1h-1zM21 45h1v1h-1zM21 46h1v1h-1zM21 47h1v1h-1z"/>
<path fill="#b8bf10" d="M20 0h1v1h-1zM20 1h1v1h-1zM20 2h1v1h-1zM20 3h1v1h-1zM20 4h1v1h-1zM110 6h1v1h-1zM21 7h1v1h-1zM109 8h1v1h-1zM26 12h1v1h-1zM79 12h1v1h-1zM28 13h1v1h-1zM75 13h1v1h-1zM31 14h1v1h-1zM49 33h1v1h-1zM56 33h1v1h-1zM72 33h1v1h-1zM80 33h1v1h-1zM29 34h1v1h-1zM104 34h1v1h-1zM110 41h1v1h-1z"/>
<path fill="#b7c111" d="M110 5h1v1h-1zM74 13h1v1h-1zM81 13h1v1h-1zM83 14h1v1h-1zM101 14h1v1h-1zM33 33h1v1h-1zM48 33h1v1h-1zM57 33h1v1h-1zM71 33h1v1h-1zM101 33h1v1h-1zM26 36h1v1h-1zM23 39h1v1h-1zM109 39h1v1h-1zM22 41h1v1h-1zM110 42h1v1h-1z"/>
<path fill="#b0c011" d="M110 0h1v1h-1zM110 1h1v1h-1zM110 2h1v1h-1zM110 3h1v1h-1zM110 4h1v1h-1zM21 6h1v1h-1zM109 7h1v1h-1zM22 8h1v1h-1zM23 9h1v1h-1zM108 9h1v1h-1zM25 11h1v1h-1zM77 12h1v1h-1zM105 12h1v1h-1zM73 13h1v1h-1zM32 14h1v1h-1zM55 14h1v1h-1zM47 33h1v1h-1zM58 33h1v1h-1zM70 33h1v1h-1zM81 33h1v1h-1zM94 33h3v1h-3zM25 37h1v1h-1zM24 38h1v1h-1zM22 42h1v1h-1zM110 43h1v1h-1zM110 44h1v1h-1zM110 45h1v1h-1zM110 46h1v1h-1zM110 47h1v1h-1z"/>
<path fill="#a8bf10" d="M21 5h1v1h-1zM109 6h1v1h-1zM24 10h1v1h-1zM107 10h1v1h-1zM106 11h1v1h-1zM80 12h1v1h-1zM29 13h1v1h-1zM58 13h15v1h-15zM103 13h1v1h-1zM100 14h1v1h-1zM34 33h3v1h-3zM46 33h1v1h-1zM59 33h1v1h-1zM69 33h1v1h-1zM82 33h1v1h-1zM93 33h1v1h-1zM97 33h4v1h-4zM30 34h1v1h-1zM105 35h1v1h-1zM108 38h1v1h-1zM23 40h1v1h-1zM109 40h1v1h-1zM22 43h1v1h-1zM22 44h1v1h-1zM22 45h1v1h-1zM22 46h1v1h-1zM22 47h1v1h-1z"/>
<path fill="#a0be10" d="M21 0h1v1h-1zM21 1h1v1h-1zM21 2h1v1h-1zM21 3h1v1h-1zM21 4h1v1h-1zM109 5h1v1h-1zM22 7h1v1h-1zM108 8h1v1h-1zM27 12h1v1h-1zM57 13h1v1h-1zM33 14h1v1h-1zM84 14h1v1h-1zM45 33h1v1h-1zM60 33h1v1h-1zM83 33h1v1h-1zM92 33h1v1h-1zM103 34h1v1h-1zM28 35h1v1h-1zM107 37h1v1h-1zM109 41h1v1h-1zM109 42h1v1h-1z"/>
<path fill="#99bd0f" d="M109 0h1v1h-1zM109 1h1v1h-1zM109 2h1v1h-1zM109 3h1v1h-1zM109 4h1v1h-1zM22 6h1v1h-1zM23 8h1v1h-1zM76 12h1v1h-1zM34 14h1v1h-1zM54 14h1v1h-1zM85 14h1v1h-1zM99 14h1v1h-1zM37 33h3v1h-3zM44 33h1v1h-1zM61 33h1v1h-1zM67 33h2v1h-2zM84 33h1v1h-1zM91 33h1v1h-1zM31 34h1v1h-1zM106 36h1v1h-1zM24 39h1v1h-1zM108 39h1v1h-1zM23 41h1v1h-1zM23 42h1v1h-1zM109 43h1v1h-1zM109 44h1v1h-1zM109 45h1v1h-1zM109 46h1v1h-1zM109 47h1v1h-1z"/>
<path fill="#91bc0f" d="M22 4h1v1h-1zM22 5h1v1h-1zM108 7h1v1h-1zM24 9h1v1h-1zM107 9h1v1h-1zM25 10h1v1h-1zM26 11h1v1h-1zM74 12h2v1h-2zM104 12h1v1h-1zM30 13h1v1h-1zM56 13h1v1h-1zM82 13h1v1h-1zM102 13h1v1h-1zM35 14h19v1h-19zM86 14h13v1h-13zM40 33h4v1h-4zM62 33h5v1h-5zM85 33h6v1h-6zM27 36h1v1h-1zM26 37h1v1h-1zM25 38h1v1h-1zM108 40h1v1h-1zM23 43h1v1h-1zM23 44h1v1h-1zM23 45h1v1h-1zM23 46h1v1h-1zM23 47h1v1h-1z"/>
<path fill="#8abb0e" d="M22 0h1v1h-1zM22 1h1v1h-1zM22 2h1v1h-1zM22 3h1v1h-1zM108 5h1v1h-1zM108 6h1v1h-1zM23 7h1v1h-1zM106 10h1v1h-1zM78 11h1v1h-1zM105 11h1v1h-1zM28 12h1v1h-1zM72 12h2v1h-2zM81 12h1v1h-1zM32 34h1v1h-1zM50 34h6v1h-6zM73 34h6v1h-6zM102 34h1v1h-1zM29 35h1v1h-1zM104 35h1v1h-1zM107 38h1v1h-1zM24 40h1v1h-1zM108 41h1v1h-1zM108 42h1v1h-1z"/>
<path fill="#82ba0e" d="M108 0h1v1h-1zM108 1h1v1h-1zM108 2h1v1h-1zM108 3h1v1h-1zM108 4h1v1h-1zM23 6h1v1h-1zM24 8h1v1h-1zM107 8h1v1h-1zM79 11h1v1h-1zM58 12h14v1h-14zM31 13h1v1h-1zM55 13h1v1h-1zM48 34h2v1h-2zM56 34h2v1h-2zM72 34h1v1h-1zM79 34h2v1h-2zM105 36h1v1h-1zM106 37h1v1h-1zM25 39h1v1h-1zM107 39h1v1h-1zM24 41h1v1h-1zM24 42h1v1h-1zM108 43h1v1h-1zM108 44h1v1h-1zM108 45h1v1h-1zM108 46h1v1h-1zM108 47h1v1h-1z"/>
<path fill="#7bb90e" d="M23 0h1v1h-1zM23 1h1v1h-1zM23 2h1v1h-1zM23 3h1v1h-1zM23 4h1v1h-1zM23 5h1v1h-1zM107 7h1v1h-1zM25 9h1v1h-1zM106 9h1v1h-1zM26 10h1v1h-1zM27 11h1v1h-1zM77 11h1v1h-1zM80 11h1v1h-1zM29 12h1v1h-1zM57 12h1v1h-1zM103 12h1v1h-1zM32 13h1v1h-1zM83 13h1v1h-1zM101 13h1v1h-1zM33 34h1v1h-1zM47 34h1v1h-1zM58 34h1v1h-1zM70 34h2v1h-2zM81 34h1v1h-1zM94 34h3v1h-3zM101 34h1v1h-1zM30 35h1v1h-1zM28 36h1v1h-1zM26 38h1v1h-1zM107 40h1v1h-1zM24 43h1v1h-1zM24 44h1v1h-1zM24 45h1v1h-1zM24 46h1v1h-1zM24 47h1v1h-1z"/>
<path fill="#75b70f" d="M107 0h1v1h-1zM107 1h1v1h-1zM107 2h1v1h-1zM107 3h1v1h-1zM107 4h1v1h-1zM107 5h1v1h-1zM107 6h1v1h-1zM24 7h1v1h-1zM105 10h1v1h-1zM73 11h2v1h-2zM104 11h1v1h-1zM56 12h1v1h-1zM33 13h1v1h-1zM54 13h1v1h-1zM84 13h1v1h-1zM100 13h1v1h-1zM34 34h3v1h-3zM46 34h1v1h-1zM59 34h1v1h-1zM69 34h1v1h-1zM82 34h2v1h-2zM92 34h2v1h-2zM97 34h4v1h-4zM103 35h1v1h-1zM27 37h1v1h-1zM106 38h1v1h-1zM25 40h1v1h-1zM107 41h1v1h-1zM107 42h1v1h-1z"/>
<path fill="#6eb60f" d="M24 5h1v1h-1zM24 6h1v1h-1zM25 8h1v1h-1zM106 8h1v1h-1zM28 11h1v1h-1zM58 11h15v1h-15zM75 11h2v1h-2zM30 12h1v1h-1zM82 12h1v1h-1zM102 12h1v1h-1zM34 13h1v1h-1zM85 13h1v1h-1zM99 13h1v1h-1zM37 34h3v1h-3zM44 34h2v1h-2zM60 34h2v1h-2zM67 34h2v1h-2zM84 34h1v1h-1zM91 34h1v1h-1zM31 35h1v1h-1zM104 36h1v1h-1zM105 37h1v1h-1zM26 39h1v1h-1zM106 39h1v1h-1zM25 41h1v1h-1zM107 43h1v1h-1zM107 44h1v1h-1zM107 45h1v1h-1zM107 46h1v1h-1zM107 47h1v1h-1z"/>
<path fill="#67b510" d="M24 0h1v1h-1zM24 1h1v1h-1zM24 2h1v1h-1zM24 3h1v1h-1zM24 4h1v1h-1zM106 6h1v1h-1zM25 7h1v1h-1zM106 7h1v1h-1zM26 9h1v1h-1zM105 9h1v1h-1zM27 10h1v1h-1zM57 11h1v1h-1zM81 11h1v1h-1zM55 12h1v1h-1zM35 13h19v1h-19zM86 13h13v1h-13zM40 34h4v1h-4zM62 34h5v1h-5zM85 34h6v1h-6zM32 35h1v1h-1zM52 35h2v1h-2zM76 35h1v1h-1zM102 35h1v1h-1zM29 36h1v1h-1zM28 37h1v1h-1zM27 38h1v1h-1zM106 40h1v1h-1zM25 42h1v1h-1zM25 43h1v1h-1zM25 44h1v1h-1zM25 45h1v1h-1zM25 46h1v1h-1zM25 47h1v1h-1z"/>
<path fill="#61b311" d="M106 0h1v1h-1zM106 1h1v1h-1zM106 2h1v1h-1zM106 3h1v1h-1zM106 4h1v1h-1zM106 5h1v1h-1zM25 6h1v1h-1zM26 8h1v1h-1zM105 8h1v1h-1zM72 10h3v1h-3zM77 10h3v1h-3zM104 10h1v1h-1zM29 11h1v1h-1zM56 11h1v1h-1zM103 11h1v1h-1zM31 12h1v1h-1zM83 12h1v1h-1zM101 12h1v1h-1zM48 35h4v1h-4zM54 35h3v1h-3zM72 35h4v1h-4zM77 35h4v1h-4zM101 35h1v1h-1zM30 36h1v1h-1zM103 36h1v1h-1zM105 38h1v1h-1zM26 40h1v1h-1zM106 41h1v1h-1zM106 42h1v1h-1zM106 44h1v1h-1zM106 45h1v1h-1zM106 46h1v1h-1zM106 47h1v1h-1z"/>
<path fill="#5ab211" d="M25 0h1v1h-1zM25 1h1v1h-1zM25 2h1v1h-1zM25 3h1v1h-1zM25 4h1v1h-1zM25 5h1v1h-1zM26 7h1v1h-1zM105 7h1v1h-1zM27 9h1v1h-1zM28 10h1v1h-1zM57 10h15v1h-15zM75 10h2v1h-2zM80 10h1v1h-1zM82 11h1v1h-1zM32 12h1v1h-1zM54 12h1v1h-1zM100 12h1v1h-1zM33 35h2v1h-2zM47 35h1v1h-1zM57 35h2v1h-2zM70 35h2v1h-2zM81 35h2v1h-2zM94 35h3v1h-3zM100 35h1v1h-1zM104 37h1v1h-1zM26 41h1v1h-1zM106 43h1v1h-1z"/>
<path fill="#54b112" d="M105 4h1v1h-1zM105 5h1v1h-1zM26 6h1v1h-1zM105 6h1v1h-1zM27 8h1v1h-1zM73 9h2v1h-2zM104 9h1v1h-1zM103 10h1v1h-1zM30 11h1v1h-1zM55 11h1v1h-1zM102 11h1v1h-1zM33 12h2v1h-2zM84 12h1v1h-1zM99 12h1v1h-1zM35 35h2v1h-2zM45 35h2v1h-2zM59 35h2v1h-2zM69 35h1v1h-1zM83 35h1v1h-1zM92 35h2v1h-2zM97 35h3v1h-3zM31 36h1v1h-1zM102 36h1v1h-1zM29 37h1v1h-1zM28 38h1v1h-1zM27 39h1v1h-1zM105 39h1v1h-1zM26 42h1v1h-1zM26 43h1v1h-1zM26 44h1v1h-1zM26 45h1v1h-1zM26 46h1v1h-1zM26 47h1v1h-1z"/>
<path fill="#4db013" d="M105 0h1v1h-1zM105 1h1v1h-1zM105 2h1v1h-1zM26 3h1v1h-1zM105 3h1v1h-1zM26 4h1v1h-1zM26 5h1v1h-1zM27 7h1v1h-1zM104 8h1v1h-1zM28 9h1v1h-1zM57 9h16v1h-16zM75 9h1v1h-1zM78 9h1v1h-1zM29 10h1v1h-1zM56 10h1v1h-1zM81 10h1v1h-1zM31 11h1v1h-1zM101 11h1v1h-1zM35 12h19v1h-19zM85 12h14v1h-14zM37 35h3v1h-3zM44 35h1v1h-1zM61 35h1v1h-1zM67 35h2v1h-2zM84 35h2v1h-2zM91 35h1v1h-1zM32 36h1v1h-1zM50 36h6v1h-6zM74 36h6v1h-6zM103 37h1v1h-1zM104 38h1v1h-1zM27 40h1v1h-1zM105 40h1v1h-1zM105 41h1v1h-1zM105 44h1v1h-1zM105 45h1v1h-1zM105 46h1v1h-1zM105 47h1v1h-1z"/>
<path fill="#47ae14" d="M26 0h1v1h-1zM26 1h1v1h-1zM26 2h1v1h-1zM104 5h1v1h-1zM27 6h1v1h-1zM104 6h1v1h-1zM104 7h1v1h-1zM28 8h1v1h-1zM73 8h2v1h-2zM29 9h1v1h-1zM76 9h2v1h-2zM79 9h2v1h-2zM103 9h1v1h-1zM30 10h1v1h-1zM55 10h1v1h-1zM82 10h1v1h-1zM102 10h1v1h-1zM32 11h1v1h-1zM54 11h1v1h-1zM83 11h1v1h-1zM100 11h1v1h-1zM40 35h4v1h-4zM62 35h5v1h-5zM86 35h5v1h-5zM33 36h1v1h-1zM48 36h2v1h-2zM56 36h2v1h-2zM72 36h2v1h-2zM80 36h2v1h-2zM101 36h1v1h-1zM30 37h1v1h-1zM105 42h1v1h-1zM105 43h1v1h-1z"/>
<path fill="#40ad14" d="M104 0h1v1h-1zM104 1h1v1h-1zM104 2h1v1h-1zM27 3h1v1h-1zM104 3h1v1h-1zM27 4h1v1h-1zM104 4h1v1h-1zM27 5h1v1h-1zM28 7h1v1h-1zM57 8h16v1h-16zM75 8h1v1h-1zM103 8h1v1h-1zM56 9h1v1h-1zM81 9h1v1h-1zM102 9h1v1h-1zM31 10h1v1h-1zM101 10h1v1h-1zM33 11h3v1h-3zM52 11h2v1h-2zM84 11h1v1h-1zM99 11h1v1h-1zM34 36h2v1h-2zM46 36h2v1h-2zM58 36h1v1h-1zM70 36h2v1h-2zM82 36h1v1h-1zM95 36h6v1h-6zM31 37h1v1h-1zM102 37h1v1h-1zM29 38h1v1h-1zM103 38h1v1h-1zM28 39h1v1h-1zM104 39h1v1h-1zM27 41h1v1h-1zM27 42h1v1h-1zM27 43h1v1h-1zM27 44h1v1h-1zM27 45h1v1h-1zM27 46h1v1h-1zM27 47h1v1h-1z"/>
<path fill="#39ac15" d="M27 0h1v1h-1zM27 1h1v1h-1zM27 2h1v1h-1zM28 5h1v1h-1zM103 5h1v1h-1zM28 6h1v1h-1zM103 6h1v1h-1zM58 7h6v1h-6zM73 7h2v1h-2zM103 7h1v1h-1zM29 8h1v1h-1zM56 8h1v1h-1zM76 8h4v1h-4zM102 8h1v1h-1zM30 9h1v1h-1zM55 9h1v1h-1zM32 10h1v1h-1zM54 10h1v1h-1zM83 10h1v1h-1zM36 11h4v1h-4zM45 11h7v1h-7zM85 11h1v1h-1zM97 11h2v1h-2zM36 36h1v1h-1zM45 36h1v1h-1zM59 36h1v1h-1zM69 36h1v1h-1zM83 36h2v1h-2zM93 36h2v1h-2zM32 37h1v1h-1zM49 37h8v1h-8zM74 37h7v1h-7zM101 37h1v1h-1zM104 40h1v1h-1zM104 44h1v1h-1zM104 45h1v1h-1zM104 46h1v1h-1zM104 47h1v1h-1z"/>
<path fill="#33ab16" d="M28 0h1v1h-1zM103 0h1v1h-1zM28 1h1v1h-1zM103 1h1v1h-1zM28 2h1v1h-1zM103 2h1v1h-1zM28 3h1v1h-1zM103 3h1v1h-1zM28 4h1v1h-1zM103 4h1v1h-1zM29 6h1v1h-1zM59 6h2v1h-2zM29 7h1v1h-1zM57 7h1v1h-1zM64 7h9v1h-9zM75 7h1v1h-1zM102 7h1v1h-1zM30 8h1v1h-1zM80 8h2v1h-2zM31 9h2v1h-2zM82 9h1v1h-1zM101 9h1v1h-1zM33 10h3v1h-3zM50 10h4v1h-4zM99 10h2v1h-2zM40 11h5v1h-5zM86 11h11v1h-11zM37 36h1v1h-1zM44 36h1v1h-1zM60 36h1v1h-1zM68 36h1v1h-1zM85 36h1v1h-1zM92 36h1v1h-1zM33 37h1v1h-1zM48 37h1v1h-1zM57 37h1v1h-1zM73 37h1v1h-1zM81 37h2v1h-2zM100 37h1v1h-1zM30 38h1v1h-1zM29 39h1v1h-1zM28 40h1v1h-1zM104 41h1v1h-1zM104 42h1v1h-1zM104 43h1v1h-1zM28 45h1v1h-1zM28 46h1v1h-1zM28 47h1v1h-1z"/>
<path fill="#30ab1d" d="M102 0h1v1h-1zM102 1h1v1h-1zM102 2h1v1h-1zM29 3h1v1h-1zM102 3h1v1h-1zM29 4h1v1h-1zM102 4h1v1h-1zM29 5h1v1h-1zM102 5h1v1h-1zM30 6h1v1h-1zM57 6h2v1h-2zM61 6h5v1h-5zM102 6h1v1h-1zM30 7h1v1h-1zM56 7h1v1h-1zM76 7h4v1h-4zM101 7h1v1h-1zM31 8h2v1h-2zM55 8h1v1h-1zM82 8h1v1h-1zM101 8h1v1h-1zM33 9h2v1h-2zM53 9h2v1h-2zM83 9h1v1h-1zM100 9h1v1h-1zM36 10h2v1h-2zM47 10h3v1h-3zM84 10h1v1h-1zM98 10h1v1h-1zM38 36h2v1h-2zM61 36h1v1h-1zM67 36h1v1h-1zM86 36h1v1h-1zM91 36h1v1h-1zM34 37h2v1h-2zM47 37h1v1h-1zM58 37h1v1h-1zM71 37h2v1h-2zM95 37h5v1h-5zM31 38h1v1h-1zM49 38h8v1h-8zM75 38h6v1h-6zM102 38h1v1h-1zM103 39h1v1h-1zM28 41h1v1h-1zM28 42h1v1h-1zM28 43h1v1h-1zM28 44h1v1h-1zM103 45h1v1h-1zM103 46h1v1h-1zM103 47h1v1h-1z"/>
<path fill="#2eac24" d="M29 0h2v1h-2zM101 0h1v1h-1zM29 1h2v1h-2zM101 1h1v1h-1zM29 2h2v1h-2zM101 2h1v1h-1zM30 3h1v1h-1zM101 3h1v1h-1zM30 4h1v1h-1zM101 4h1v1h-1zM30 5h2v1h-2zM58 5h6v1h-6zM101 5h1v1h-1zM31 6h1v1h-1zM56 6h1v1h-1zM66 6h9v1h-9zM101 6h1v1h-1zM31 7h2v1h-2zM55 7h1v1h-1zM80 7h3v1h-3zM100 7h1v1h-1zM33 8h2v1h-2zM53 8h2v1h-2zM83 8h1v1h-1zM100 8h1v1h-1zM35 9h2v1h-2zM48 9h5v1h-5zM84 9h1v1h-1zM99 9h1v1h-1zM38 10h9v1h-9zM85 10h2v1h-2zM95 10h3v1h-3zM40 36h4v1h-4zM62 36h2v1h-2zM65 36h2v1h-2zM87 36h1v1h-1zM90 36h1v1h-1zM36 37h1v1h-1zM46 37h1v1h-1zM59 37h1v1h-1zM83 37h1v1h-1zM94 37h1v1h-1zM32 38h2v1h-2zM48 38h1v1h-1zM57 38h1v1h-1zM74 38h1v1h-1zM81 38h2v1h-2zM101 38h1v1h-1zM30 39h1v1h-1zM79 39h1v1h-1zM29 40h1v1h-1zM103 40h1v1h-1zM103 44h1v1h-1zM29 45h1v1h-1zM29 46h1v1h-1zM29 47h1v1h-1z"/>
<path fill="#2bac2b" d="M31 0h3v1h-3zM60 0h3v1h-3zM99 0h2v1h-2zM31 1h3v1h-3zM60 1h3v1h-3zM99 1h2v1h-2zM31 2h3v1h-3zM60 2h3v1h-3zM99 2h2v1h-2zM31 3h3v1h-3zM60 3h3v1h-3zM99 3h2v1h-2zM31 4h4v1h-4zM58 4h6v1h-6zM99 4h2v1h-2zM32 5h4v1h-4zM57 5h1v1h-1zM64 5h4v1h-4zM99 5h2v1h-2zM32 6h4v1h-4zM75 6h1v1h-1zM78 6h5v1h-5zM99 6h2v1h-2zM33 7h4v1h-4zM53 7h2v1h-2zM83 7h1v1h-1zM99 7h1v1h-1zM35 8h3v1h-3zM48 8h5v1h-5zM84 8h1v1h-1zM98 8h2v1h-2zM37 9h3v1h-3zM45 9h3v1h-3zM85 9h1v1h-1zM97 9h2v1h-2zM87 10h8v1h-8zM64 36h1v1h-1zM88 36h2v1h-2zM45 37h1v1h-1zM70 37h1v1h-1zM84 37h1v1h-1zM34 38h1v1h-1zM47 38h1v1h-1zM58 38h1v1h-1zM73 38h1v1h-1zM100 38h1v1h-1zM31 39h1v1h-1zM49 39h8v1h-8zM76 39h3v1h-3zM80 39h2v1h-2zM102 39h1v1h-1zM103 41h1v1h-1zM103 42h1v1h-1zM29 43h1v1h-1zM103 43h1v1h-1zM29 44h1v1h-1zM102 45h1v1h-1zM102 46h1v1h-1zM102 47h1v1h-1z"/>
<path fill="#28ad31" d="M34 0h11v1h-11zM59 0h1v1h-1zM63 0h2v1h-2zM84 0h15v1h-15zM34 1h11v1h-11zM59 1h1v1h-1zM63 1h2v1h-2zM84 1h15v1h-15zM34 2h11v1h-11zM59 2h1v1h-1zM63 2h2v1h-2zM84 2h15v1h-15zM34 3h11v1h-11zM58 3h2v1h-2zM63 3h2v1h-2zM84 3h15v1h-15zM35 4h9v1h-9zM57 4h1v1h-1zM64 4h2v1h-2zM84 4h5v1h-5zM93 4h6v1h-6zM36 5h6v1h-6zM56 5h1v1h-1zM68 5h6v1h-6zM81 5h5v1h-5zM96 5h3v1h-3zM36 6h4v1h-4zM55 6h1v1h-1zM76 6h2v1h-2zM83 6h3v1h-3zM97 6h2v1h-2zM37 7h2v1h-2zM46 7h7v1h-7zM84 7h2v1h-2zM97 7h2v1h-2zM38 8h2v1h-2zM45 8h3v1h-3zM85 8h1v1h-1zM96 8h2v1h-2zM40 9h5v1h-5zM86 9h2v1h-2zM94 9h3v1h-3zM37 37h1v1h-1zM60 37h1v1h-1zM69 37h1v1h-1zM85 37h1v1h-1zM93 37h1v1h-1zM35 38h1v1h-1zM46 38h1v1h-1zM72 38h1v1h-1zM83 38h1v1h-1zM95 38h5v1h-5zM32 39h2v1h-2zM47 39h2v1h-2zM57 39h1v1h-1zM74 39h2v1h-2zM82 39h1v1h-1zM30 40h1v1h-1zM79 40h4v1h-4zM29 41h1v1h-1zM29 42h1v1h-1zM30 44h1v1h-1zM102 44h1v1h-1zM30 45h1v1h-1zM30 46h1v1h-1zM30 47h1v1h-1z"/>
<path fill="#25ae38" d="M45 0h1v1h-1zM58 0h1v1h-1zM65 0h3v1h-3zM82 0h2v1h-2zM45 1h1v1h-1zM58 1h1v1h-1zM65 1h3v1h-3zM82 1h2v1h-2zM45 2h1v1h-1zM58 2h1v1h-1zM65 2h3v1h-3zM82 2h2v1h-2zM45 3h1v1h-1zM65 3h3v1h-3zM82 3h2v1h-2zM44 4h3v1h-3zM66 4h5v1h-5zM81 4h3v1h-3zM89 4h4v1h-4zM42 5h6v1h-6zM74 5h1v1h-1zM79 5h2v1h-2zM86 5h10v1h-10zM40 6h15v1h-15zM86 6h3v1h-3zM93 6h4v1h-4zM39 7h7v1h-7zM86 7h2v1h-2zM94 7h3v1h-3zM40 8h5v1h-5zM86 8h3v1h-3zM94 8h2v1h-2zM88 9h6v1h-6zM38 37h1v1h-1zM44 37h1v1h-1zM61 37h1v1h-1zM68 37h1v1h-1zM92 37h1v1h-1zM36 38h1v1h-1zM59 38h1v1h-1zM71 38h1v1h-1zM84 38h1v1h-1zM94 38h1v1h-1zM34 39h2v1h-2zM58 39h1v1h-1zM73 39h1v1h-1zM83 39h1v1h-1zM101 39h1v1h-1zM31 40h1v1h-1zM47 40h3v1h-3zM55 40h3v1h-3zM77 40h2v1h-2zM83 40h1v1h-1zM102 40h1v1h-1zM30 41h1v1h-1zM80 41h3v1h-3zM81 42h3v1h-3zM30 43h1v1h-1zM81 43h3v1h-3zM102 43h1v1h-1zM31 44h6v1h-6zM81 44h5v1h-5zM94 44h3v1h-3zM31 45h7v1h-7zM60 45h1v1h-1zM81 45h5v1h-5zM93 45h4v1h-4zM101 45h1v1h-1zM31 46h7v1h-7zM60 46h1v1h-1zM81 46h5v1h-5zM93 46h4v1h-4zM101 46h1v1h-1zM31 47h7v1h-7zM60 47h1v1h-1zM81 47h5v1h-5zM93 47h4v1h-4zM101 47h1v1h-1z"/>
<path fill="#23ae3f" d="M46 0h1v1h-1zM57 0h1v1h-1zM68 0h2v1h-2zM81 0h1v1h-1zM46 1h1v1h-1zM57 1h1v1h-1zM68 1h2v1h-2zM81 1h1v1h-1zM46 2h1v1h-1zM57 2h1v1h-1zM68 2h2v1h-2zM81 2h1v1h-1zM46 3h1v1h-1zM57 3h1v1h-1zM68 3h3v1h-3zM81 3h1v1h-1zM47 4h1v1h-1zM56 4h1v1h-1zM71 4h2v1h-2zM80 4h1v1h-1zM48 5h2v1h-2zM55 5h1v1h-1zM75 5h4v1h-4zM89 6h4v1h-4zM88 7h6v1h-6zM89 8h5v1h-5zM43 37h1v1h-1zM67 37h1v1h-1zM86 37h1v1h-1zM45 38h1v1h-1zM60 38h1v1h-1zM70 38h1v1h-1zM46 39h1v1h-1zM59 39h1v1h-1zM72 39h1v1h-1zM95 39h4v1h-4zM100 39h1v1h-1zM32 40h4v1h-4zM50 40h5v1h-5zM58 40h1v1h-1zM75 40h2v1h-2zM34 41h1v1h-1zM47 41h1v1h-1zM57 41h2v1h-2zM79 41h1v1h-1zM83 41h1v1h-1zM102 41h1v1h-1zM30 42h1v1h-1zM34 42h2v1h-2zM80 42h1v1h-1zM84 42h1v1h-1zM102 42h1v1h-1zM31 43h6v1h-6zM59 43h1v1h-1zM84 43h2v1h-2zM94 43h3v1h-3zM37 44h2v1h-2zM44 44h3v1h-3zM58 44h5v1h-5zM67 44h2v1h-2zM86 44h1v1h-1zM92 44h2v1h-2zM97 44h1v1h-1zM101 44h1v1h-1zM38 45h2v1h-2zM43 45h4v1h-4zM58 45h2v1h-2zM61 45h9v1h-9zM86 45h7v1h-7zM97 45h4v1h-4zM38 46h2v1h-2zM43 46h4v1h-4zM58 46h2v1h-2zM61 46h9v1h-9zM86 46h7v1h-7zM97 46h4v1h-4zM38 47h2v1h-2zM43 47h4v1h-4zM58 47h2v1h-2zM61 47h9v1h-9zM86 47h7v1h-7zM97 47h4v1h-4z"/>
<path fill="#20af46" d="M47 0h1v1h-1zM70 0h2v1h-2zM80 0h1v1h-1zM47 1h1v1h-1zM70 1h2v1h-2zM80 1h1v1h-1zM47 2h1v1h-1zM70 2h2v1h-2zM80 2h1v1h-1zM47 3h1v1h-1zM71 3h1v1h-1zM80 3h1v1h-1zM48 4h1v1h-1zM73 4h2v1h-2zM79 4h1v1h-1zM50 5h2v1h-2zM53 5h2v1h-2zM39 37h1v1h-1zM62 37h1v1h-1zM66 37h1v1h-1zM87 37h1v1h-1zM91 37h1v1h-1zM37 38h1v1h-1zM69 38h1v1h-1zM85 38h1v1h-1zM93 38h1v1h-1zM36 39h1v1h-1zM45 39h1v1h-1zM84 39h1v1h-1zM94 39h1v1h-1zM99 39h1v1h-1zM36 40h1v1h-1zM46 40h1v1h-1zM59 40h1v1h-1zM73 40h2v1h-2zM84 40h1v1h-1zM95 40h2v1h-2zM101 40h1v1h-1zM31 41h3v1h-3zM35 41h2v1h-2zM46 41h1v1h-1zM48 41h2v1h-2zM56 41h1v1h-1zM59 41h1v1h-1zM78 41h1v1h-1zM84 41h1v1h-1zM95 41h2v1h-2zM31 42h3v1h-3zM36 42h1v1h-1zM46 42h2v1h-2zM57 42h3v1h-3zM79 42h1v1h-1zM94 42h3v1h-3zM37 43h1v1h-1zM45 43h2v1h-2zM58 43h1v1h-1zM60 43h2v1h-2zM80 43h1v1h-1zM86 43h1v1h-1zM93 43h1v1h-1zM97 43h1v1h-1zM101 43h1v1h-1zM39 44h5v1h-5zM47 44h1v1h-1zM63 44h4v1h-4zM69 44h2v1h-2zM80 44h1v1h-1zM87 44h5v1h-5zM98 44h3v1h-3zM40 45h3v1h-3zM47 45h1v1h-1zM70 45h1v1h-1zM80 45h1v1h-1zM40 46h3v1h-3zM47 46h1v1h-1zM70 46h1v1h-1zM80 46h1v1h-1zM40 47h3v1h-3zM47 47h1v1h-1zM70 47h1v1h-1zM80 47h1v1h-1z"/>
<path fill="#1daf4c" d="M48 0h1v1h-1zM56 0h1v1h-1zM72 0h1v1h-1zM79 0h1v1h-1zM48 1h1v1h-1zM56 1h1v1h-1zM72 1h1v1h-1zM79 1h1v1h-1zM48 2h1v1h-1zM56 2h1v1h-1zM72 2h1v1h-1zM79 2h1v1h-1zM48 3h1v1h-1zM56 3h1v1h-1zM72 3h2v1h-2zM79 3h1v1h-1zM49 4h1v1h-1zM55 4h1v1h-1zM75 4h1v1h-1zM78 4h1v1h-1zM52 5h1v1h-1zM40 37h3v1h-3zM63 37h3v1h-3zM88 37h3v1h-3zM38 38h1v1h-1zM44 38h1v1h-1zM61 38h1v1h-1zM68 38h1v1h-1zM37 39h1v1h-1zM60 39h1v1h-1zM71 39h1v1h-1zM45 40h1v1h-1zM72 40h1v1h-1zM94 40h1v1h-1zM97 40h2v1h-2zM45 41h1v1h-1zM50 41h1v1h-1zM55 41h1v1h-1zM77 41h1v1h-1zM94 41h1v1h-1zM97 41h1v1h-1zM37 42h1v1h-1zM45 42h1v1h-1zM48 42h1v1h-1zM56 42h1v1h-1zM60 42h1v1h-1zM85 42h1v1h-1zM93 42h1v1h-1zM97 42h1v1h-1zM38 43h1v1h-1zM44 43h1v1h-1zM47 43h1v1h-1zM57 43h1v1h-1zM62 43h1v1h-1zM67 43h3v1h-3zM87 43h1v1h-1zM91 43h2v1h-2zM98 43h1v1h-1zM57 44h1v1h-1zM71 44h1v1h-1zM57 45h1v1h-1zM71 45h1v1h-1zM57 46h1v1h-1zM71 46h1v1h-1zM57 47h1v1h-1zM71 47h1v1h-1z"/>
<path fill="#1ab053" d="M73 0h2v1h-2zM73 1h2v1h-2zM73 2h2v1h-2zM74 3h1v1h-1zM78 3h1v1h-1zM50 4h1v1h-1zM54 4h1v1h-1zM76 4h2v1h-2zM67 38h1v1h-1zM86 38h1v1h-1zM92 38h1v1h-1zM70 39h1v1h-1zM85 39h1v1h-1zM93 39h1v1h-1zM37 40h1v1h-1zM60 40h1v1h-1zM71 40h1v1h-1zM85 40h1v1h-1zM93 40h1v1h-1zM99 40h2v1h-2zM37 41h1v1h-1zM51 41h1v1h-1zM54 41h1v1h-1zM60 41h1v1h-1zM73 41h4v1h-4zM85 41h1v1h-1zM93 41h1v1h-1zM98 41h1v1h-1zM101 41h1v1h-1zM38 42h1v1h-1zM44 42h1v1h-1zM61 42h1v1h-1zM78 42h1v1h-1zM86 42h1v1h-1zM92 42h1v1h-1zM98 42h1v1h-1zM101 42h1v1h-1zM39 43h2v1h-2zM42 43h2v1h-2zM48 43h1v1h-1zM63 43h4v1h-4zM70 43h2v1h-2zM79 43h1v1h-1zM88 43h3v1h-3zM99 43h2v1h-2zM48 44h1v1h-1zM79 44h1v1h-1zM48 45h1v1h-1zM79 45h1v1h-1zM48 46h1v1h-1zM79 46h1v1h-1zM48 47h1v1h-1zM79 47h1v1h-1z"/>
<path fill="#17b15a" d="M49 0h1v1h-1zM55 0h1v1h-1zM75 0h1v1h-1zM77 0h2v1h-2zM49 1h1v1h-1zM55 1h1v1h-1zM75 1h1v1h-1zM77 1h2v1h-2zM49 2h1v1h-1zM55 2h1v1h-1zM75 2h1v1h-1zM77 2h2v1h-2zM49 3h1v1h-1zM55 3h1v1h-1zM75 3h1v1h-1zM77 3h1v1h-1zM51 4h3v1h-3zM39 38h1v1h-1zM43 38h1v1h-1zM62 38h1v1h-1zM66 38h1v1h-1zM91 38h1v1h-1zM38 39h1v1h-1zM44 39h1v1h-1zM61 39h1v1h-1zM69 39h1v1h-1zM44 40h1v1h-1zM70 40h1v1h-1zM44 41h1v1h-1zM52 41h2v1h-2zM61 41h1v1h-1zM71 41h2v1h-2zM99 41h2v1h-2zM43 42h1v1h-1zM49 42h1v1h-1zM55 42h1v1h-1zM62 42h1v1h-1zM67 42h6v1h-6zM87 42h1v1h-1zM91 42h1v1h-1zM99 42h2v1h-2zM41 43h1v1h-1zM56 43h1v1h-1zM56 44h1v1h-1zM72 44h1v1h-1zM56 45h1v1h-1zM72 45h1v1h-1zM56 46h1v1h-1zM72 46h1v1h-1zM56 47h1v1h-1zM72 47h1v1h-1z"/>
<path fill="#15b161" d="M76 0h1v1h-1zM76 1h1v1h-1zM76 2h1v1h-1zM50 3h1v1h-1zM54 3h1v1h-1zM76 3h1v1h-1zM40 38h1v1h-1zM42 38h1v1h-1zM63 38h1v1h-1zM65 38h1v1h-1zM87 38h1v1h-1zM68 39h1v1h-1zM86 39h1v1h-1zM92 39h1v1h-1zM38 40h1v1h-1zM61 40h1v1h-1zM69 40h1v1h-1zM86 40h1v1h-1zM92 40h1v1h-1zM38 41h1v1h-1zM69 41h2v1h-2zM86 41h1v1h-1zM92 41h1v1h-1zM39 42h1v1h-1zM50 42h1v1h-1zM63 42h4v1h-4zM73 42h1v1h-1zM77 42h1v1h-1zM88 42h1v1h-1zM90 42h1v1h-1zM49 43h1v1h-1zM72 43h1v1h-1zM78 43h1v1h-1zM49 44h1v1h-1zM78 44h1v1h-1zM49 45h1v1h-1zM78 45h1v1h-1zM49 46h1v1h-1zM78 46h1v1h-1zM49 47h1v1h-1zM78 47h1v1h-1z"/>
<path fill="#13b267" d="M50 0h1v1h-1zM54 0h1v1h-1zM50 1h1v1h-1zM54 1h1v1h-1zM50 2h1v1h-1zM54 2h1v1h-1zM51 3h1v1h-1zM53 3h1v1h-1zM41 38h1v1h-1zM64 38h1v1h-1zM88 38h3v1h-3zM39 39h1v1h-1zM43 39h1v1h-1zM62 39h1v1h-1zM67 39h1v1h-1zM91 39h1v1h-1zM68 40h1v1h-1zM43 41h1v1h-1zM62 41h1v1h-1zM67 41h2v1h-2zM87 41h1v1h-1zM91 41h1v1h-1zM40 42h3v1h-3zM54 42h1v1h-1zM74 42h3v1h-3zM89 42h1v1h-1zM55 43h1v1h-1zM73 43h1v1h-1zM55 44h1v1h-1zM73 44h1v1h-1zM55 45h1v1h-1zM73 45h1v1h-1zM55 46h1v1h-1zM73 46h1v1h-1zM55 47h1v1h-1zM73 47h1v1h-1z"/>
<path fill="#12b36c" d="M51 0h3v1h-3zM51 1h3v1h-3zM51 2h3v1h-3zM52 3h1v1h-1zM63 39h1v1h-1zM66 39h1v1h-1zM87 39h1v1h-1zM39 40h1v1h-1zM43 40h1v1h-1zM62 40h1v1h-1zM67 40h1v1h-1zM87 40h1v1h-1zM91 40h1v1h-1zM39 41h1v1h-1zM63 41h4v1h-4zM88 41h1v1h-1zM90 41h1v1h-1zM51 42h1v1h-1zM53 42h1v1h-1zM50 43h1v1h-1zM77 43h1v1h-1zM77 44h1v1h-1zM74 45h1v1h-1zM77 45h1v1h-1zM74 46h1v1h-1zM77 46h1v1h-1zM74 47h1v1h-1zM77 47h1v1h-1z"/>
<path fill="#11b471" d="M40 39h3v1h-3zM64 39h2v1h-2zM88 39h3v1h-3zM42 40h1v1h-1zM63 40h4v1h-4zM88 40h1v1h-1zM90 40h1v1h-1zM40 41h3v1h-3zM89 41h1v1h-1zM52 42h1v1h-1zM54 43h1v1h-1zM74 43h3v1h-3zM50 44h1v1h-1zM74 44h1v1h-1zM50 45h1v1h-1zM54 45h1v1h-1zM75 45h2v1h-2zM50 46h1v1h-1zM54 46h1v1h-1zM75 46h2v1h-2zM50 47h1v1h-1zM54 47h1v1h-1zM75 47h2v1h-2z"/>
<path fill="#10b576" d="M40 40h2v1h-2zM89 40h1v1h-1zM51 43h1v1h-1zM54 44h1v1h-1zM75 44h2v1h-2zM51 45h1v1h-1zM51 46h1v1h-1zM51 47h1v1h-1z"/>
<path fill="#0fb67b" d="M52 43h2v1h-2zM51 44h1v1h-1zM53 44h1v1h-1zM52 45h2v1h-2zM52 46h2v1h-2zM52 47h2v1h-2z"/>
<path fill="#0eb781" d="M52 44h1v1h-1z"/>
</g></g></g>
<text x="150.8" y="124.2" font-size="10" font-weight="bold" fill="#111" textLength="89.2" lengthAdjust="spacingAndGlyphs">E: Explicit Dynamics</text>
<text x="150.8" y="136.3" font-size="10" fill="#2a2a2a" textLength="95.9" lengthAdjust="spacingAndGlyphs">Middle Principal Stress</text>
<text x="150.8" y="148.4" font-size="10" fill="#2a2a2a" textLength="121.7" lengthAdjust="spacingAndGlyphs">Type: Middle Principal Stress</text>
<text x="150.8" y="160.8" font-size="10" fill="#2a2a2a" textLength="40" lengthAdjust="spacingAndGlyphs">Unit: MPa</text>
<text x="150.8" y="173" font-size="10" fill="#2a2a2a" textLength="83.4" lengthAdjust="spacingAndGlyphs">Time: 1,9547e-004 s</text>
<text x="150.8" y="185.6" font-size="10" fill="#2a2a2a" textLength="89.2" lengthAdjust="spacingAndGlyphs">Cycle Number: 59157</text>
<rect x="151" y="207.30" width="12" height="13.69" fill="#f80000"/>
<rect x="151" y="220.69" width="12" height="13.69" fill="#ff8200"/>
<rect x="151" y="234.08" width="12" height="13.69" fill="#ffc800"/>
<rect x="151" y="247.47" width="12" height="13.69" fill="#f8f800"/>
<rect x="151" y="260.86" width="12" height="13.69" fill="#b4f800"/>
<rect x="151" y="274.25" width="12" height="13.69" fill="#40e400"/>
<rect x="151" y="287.64" width="12" height="13.69" fill="#10dc30"/>
<rect x="151" y="301.03" width="12" height="13.69" fill="#00e49c"/>
<rect x="151" y="314.42" width="12" height="13.69" fill="#00e4e4"/>
<rect x="151" y="327.81" width="12" height="13.69" fill="#00b4f0"/>
<rect x="151" y="341.20" width="12" height="13.69" fill="#1478fa"/>
<rect x="151" y="354.59" width="12" height="13.69" fill="#0000e0"/>
<path d="M151 220.69h12M151 234.08h12M151 247.47h12M151 260.86h12M151 274.25h12M151 287.64h12M151 301.03h12M151 314.42h12M151 327.81h12M151 341.20h12M151 354.59h12" stroke="#1a1a1a" stroke-opacity=".55" stroke-width=".8"/>
<rect x="151" y="207.30" width="12" height="1.6" fill="#7a0000"/>
<text x="171" y="209.9" font-size="9.5" font-weight="bold" fill="#111">233 Max</text>
<text x="171" y="223.2" font-size="9.0" fill="#2a2a2a">126</text>
<text x="171" y="236.5" font-size="9.0" fill="#2a2a2a">18,2</text>
<text x="171" y="249.8" font-size="9.0" fill="#2a2a2a">-89,2</text>
<text x="171" y="263.1" font-size="9.0" fill="#2a2a2a">-197</text>
<text x="171" y="276.4" font-size="9.0" fill="#2a2a2a">-304</text>
<text x="171" y="289.7" font-size="9.0" fill="#2a2a2a">-412</text>
<text x="171" y="303.0" font-size="9.0" fill="#2a2a2a">-519</text>
<text x="171" y="316.3" font-size="9.0" fill="#2a2a2a">-626</text>
<text x="171" y="329.6" font-size="9.0" fill="#2a2a2a">-734</text>
<text x="171" y="342.9" font-size="9.0" fill="#2a2a2a">-841</text>
<text x="171" y="356.2" font-size="9.0" fill="#2a2a2a">-949</text>
<text x="171" y="369.5" font-size="9.5" font-weight="bold" fill="#111">-1,06e3 Min</text>
<path d="M429 134.6H465.0L469 141.9L465.0 149.3H429Z" fill="#2cf2fa" stroke="#0d5a50" stroke-width="1" stroke-linejoin="round"/>
<circle cx="472.0" cy="141.9" r="1.6" fill="#fff" stroke="#0a2226" stroke-width="1.3"/>
<text x="447.3" y="144.9" font-size="8.4" fill="#0b5577" text-anchor="middle">-452,41</text>
<path d="M494.3 170.2V157" stroke="#0c4a40" stroke-width="1"/>
<circle cx="494.3" cy="156" r="1.6" fill="#fff" stroke="#0a2226" stroke-width="1.3"/>
<path d="M452.7 164H489.3L493.3 171.2L489.3 178.3H452.7Z" fill="#2cf2fa" stroke="#0d5a50" stroke-width="1" stroke-linejoin="round"/>
<text x="471.3" y="174.2" font-size="8.4" fill="#0b5577" text-anchor="middle">-425,01</text>
<path d="M490 139H527.3L531.3 146.3L527.3 153.7H490Z" fill="#2cf2fa" stroke="#0d5a50" stroke-width="1" stroke-linejoin="round"/>
<text x="508.9" y="149.3" font-size="8.4" fill="#0b5577" text-anchor="middle">-538,06</text>
<path d="M531.7 134.6H568.0L572 141.8L568.0 149H531.7Z" fill="#2cf2fa" stroke="#0d5a50" stroke-width="1" stroke-linejoin="round"/>
<circle cx="575.0" cy="141.8" r="1.6" fill="#fff" stroke="#0a2226" stroke-width="1.3"/>
<text x="550.1" y="144.8" font-size="8.4" fill="#0b5577" text-anchor="middle">-443,64</text>
<path d="M593.3 130.7H629.0L633 137.8L629.0 145H593.3Z" fill="#2cf2fa" stroke="#0d5a50" stroke-width="1" stroke-linejoin="round"/>
<circle cx="636.0" cy="137.8" r="1.6" fill="#fff" stroke="#0a2226" stroke-width="1.3"/>
<text x="611.4" y="140.8" font-size="8.4" fill="#0b5577" text-anchor="middle">476,36</text>
<path d="M658.5 131.5H695.0L699 138.7L695.0 145.8H658.5Z" fill="#2cf2fa" stroke="#0d5a50" stroke-width="1" stroke-linejoin="round"/>
<circle cx="702.0" cy="138.7" r="1.6" fill="#fff" stroke="#0a2226" stroke-width="1.3"/>
<text x="677.0" y="141.7" font-size="8.4" fill="#0b5577" text-anchor="middle">-492,98</text>
<path d="M626.7 155.5H663.0L667 162.4L663.0 169.3H626.7Z" fill="#2cf2fa" stroke="#0d5a50" stroke-width="1" stroke-linejoin="round"/>
<circle cx="670.0" cy="162.4" r="1.6" fill="#fff" stroke="#0a2226" stroke-width="1.3"/>
<text x="645.1" y="165.4" font-size="8.4" fill="#0b5577" text-anchor="middle">-442,41</text>
<path d="M430.7 242.7H464.5L468.5 249.7L464.5 256.7H430.7Z" fill="#2cf2fa" stroke="#0d5a50" stroke-width="1" stroke-linejoin="round"/>
<circle cx="471.5" cy="249.7" r="1.6" fill="#fff" stroke="#0a2226" stroke-width="1.3"/>
<text x="447.9" y="252.7" font-size="8.4" fill="#0b5577" text-anchor="middle">62,363</text>
<path d="M593.3 240.7H627.7L631.7 248.0L627.7 255.3H593.3Z" fill="#2cf2fa" stroke="#0d5a50" stroke-width="1" stroke-linejoin="round"/>
<circle cx="634.7" cy="248.0" r="1.6" fill="#fff" stroke="#0a2226" stroke-width="1.3"/>
<text x="610.8" y="251.0" font-size="8.4" fill="#0b5577" text-anchor="middle">106,36</text>
<path d="M737.4 136.4H775.6L779.6 143.5L775.6 150.6H737.4Z" fill="#2cf2fa" stroke="#0d5a50" stroke-width="1" stroke-linejoin="round"/>
<text x="756.8" y="146.5" font-size="8.4" fill="#0b5577" text-anchor="middle">-431,82</text>
<path d="M779.4 137.5H816.6L820.6 144.7L816.6 151.8H779.4Z" fill="#2cf2fa" stroke="#0d5a50" stroke-width="1" stroke-linejoin="round"/>
<circle cx="823.6" cy="144.7" r="1.6" fill="#fff" stroke="#0a2226" stroke-width="1.3"/>
<text x="798.3" y="147.7" font-size="8.4" fill="#0b5577" text-anchor="middle">-482,96</text>
<path d="M837.5 138.6H869.0L873 145.9L869.0 153.2H837.5Z" fill="#2cf2fa" stroke="#0d5a50" stroke-width="1" stroke-linejoin="round"/>
<circle cx="876.0" cy="145.9" r="1.6" fill="#fff" stroke="#0a2226" stroke-width="1.3"/>
<text x="853.5" y="148.9" font-size="8.4" fill="#0b5577" text-anchor="middle">-448,8</text>
<path d="M711 153.2H747.3L751.3 160.3L747.3 167.5H711Z" fill="#2cf2fa" stroke="#0d5a50" stroke-width="1" stroke-linejoin="round"/>
<circle cx="754.3" cy="160.3" r="1.6" fill="#fff" stroke="#0a2226" stroke-width="1.3"/>
<text x="729.4" y="163.3" font-size="8.4" fill="#0b5577" text-anchor="middle">-272,05</text>
<path d="M752.4 241.8H786.6L790.6 249.7L786.6 257.5H752.4Z" fill="#2cf2fa" stroke="#0d5a50" stroke-width="1" stroke-linejoin="round"/>
<circle cx="793.6" cy="249.7" r="1.6" fill="#fff" stroke="#0a2226" stroke-width="1.3"/>
<text x="769.8" y="252.7" font-size="8.4" fill="#0b5577" text-anchor="middle">90,954</text>
<rect x="498.7" y="412" width="378" height="8.4" fill="#fff" stroke="#777" stroke-width="1"/>
<rect x="498.2" y="411.6" width="94.8" height="9.2" fill="#000"/><rect x="687.6" y="411.6" width="94.6" height="9.2" fill="#000"/>
<text x="499.3" y="408" font-size="8.2" fill="#333" text-anchor="middle">0,000</text>
<text x="686.8" y="408" font-size="8.2" fill="#333" text-anchor="middle">1,500</text>
<text x="592.8" y="433" font-size="8.2" fill="#333" text-anchor="middle">0,750</text>
<text x="782.3" y="433" font-size="8.2" fill="#333" text-anchor="middle">2,250</text>
<text x="866.8" y="408" font-size="8.2" fill="#333" textLength="44" lengthAdjust="spacingAndGlyphs">3,000 (mm)</text>
</svg>
<!--/FIG4-->

<div class="cap" style="top:440px;transform:scaleX(1.042);">Рис. 4. Напряженно-деформированное состояние полосы толщиной 2 мм из сплава ХН77ТЮ
при двухсторонней обдувке микрошариками ∅1 мм при скорости 88 м/с</div>

<!--FIG5-->
<svg class="abs" style="left:0;top:510px" width="1200" height="512" viewBox="0 510 1200 512" font-family="'Liberation Sans',sans-serif">
<rect x="122.5" y="518" width="953.3" height="497.5" fill="#fdfdfd"/>
<path d="M178.3 528.7V972.5M287.7 528.7V972.5M397.1 528.7V972.5M506.4 528.7V972.5M615.8 528.7V972.5M725.2 528.7V972.5M834.5 528.7V972.5M943.9 528.7V972.5M1053.3 528.7V972.5M178.3 972.5H1053.3M178.3 909.1H1053.3M178.3 845.7H1053.3M178.3 782.3H1053.3M178.3 718.9H1053.3M178.3 655.5H1053.3M178.3 592.1H1053.3M178.3 528.7H1053.3" stroke="#d6d6d6" stroke-width="1.1" fill="none"/>
<polyline fill="none" stroke="#3f6fc6" stroke-width="2.2" stroke-linejoin="round" stroke-linecap="round" points="178.3,972.5 179.0,930.0 180.0,880.0 181.5,830.0 183.5,795.0 185.6,787.7 186.3,790.5 187.0,792.8 187.6,794.3 188.3,795.3 189.0,795.6 189.5,795.1 190.1,795.4 190.7,795.8 191.3,795.9 191.9,795.9 192.5,795.6 193.1,795.3 193.7,795.0 194.3,794.9 194.9,795.2 195.5,795.6 196.1,796.2 196.7,796.6 197.3,796.8 197.9,796.6 198.5,796.1 199.1,795.4 199.7,794.8 200.3,794.3 200.9,794.3 201.5,794.6 202.1,795.2 202.7,795.8 203.3,796.3 203.9,796.5 204.5,796.4 205.1,796.1 205.7,795.7 206.3,795.3 206.9,795.2 207.5,795.3 208.1,795.6 208.7,795.9 209.3,796.1 209.9,796.0 210.5,795.7 211.1,795.2 211.7,794.8 212.3,794.6 212.9,794.7 213.5,795.1 214.1,795.7 214.7,796.3 215.3,796.8 215.9,796.9 216.5,796.6 217.1,796.1 217.7,795.5 218.3,794.9 218.9,794.6 219.5,794.6 220.1,794.9 220.7,795.4 221.3,795.8 221.9,796.1 222.5,796.1 223.1,795.9 223.7,795.6 224.3,795.4 224.9,795.3 225.5,795.4 226.1,795.7 226.7,796.0 227.3,796.2 227.9,796.3 228.5,796.0 229.1,795.6 229.7,795.1 230.3,794.7 230.9,794.6 231.5,794.7 232.1,795.1 232.7,795.7 233.3,796.2 233.9,796.5 234.5,796.5 235.1,796.3 235.7,795.9 236.3,795.5 236.9,795.2 237.5,795.0 238.1,795.1 238.7,795.3 239.3,795.6 239.9,795.8 240.5,795.8 240.8,796.1 241.4,788.3 242.1,777.0 242.7,763.7 243.3,749.0 244.0,733.1 244.6,716.3 245.2,723.0 245.8,728.1 246.4,731.8 247.0,734.1 247.6,734.8 248.1,735.7 248.7,735.9 249.3,735.7 249.9,735.2 250.5,734.8 251.1,734.4 251.7,734.2 252.3,734.3 252.9,734.5 253.5,734.8 254.1,735.0 254.7,735.1 255.3,734.9 255.9,734.6 256.5,734.4 257.1,734.3 257.7,734.3 258.3,734.6 258.9,735.1 259.5,735.5 260.1,735.7 260.7,735.7 261.3,735.4 261.9,734.9 262.5,734.4 263.1,734.0 263.7,733.9 264.3,734.0 264.9,734.3 265.5,734.8 266.1,735.1 266.7,735.4 267.3,735.4 267.9,735.2 268.5,734.9 269.1,734.7 269.7,734.6 270.3,734.6 270.9,734.7 271.5,734.9 272.1,735.0 272.7,735.1 273.3,734.9 273.9,734.7 274.5,734.5 275.1,734.3 275.7,734.3 276.3,734.4 276.9,734.7 277.5,735.0 278.1,735.3 278.7,735.4 279.3,735.4 279.9,735.2 280.5,734.9 281.1,734.6 281.7,734.4 282.3,734.3 282.9,734.4 283.5,734.6 284.1,734.8 284.7,735.0 285.3,735.0 285.9,735.0 286.5,734.9 287.1,734.7 287.7,734.7 288.3,734.7 288.9,734.8 289.5,734.9 290.1,735.0 290.7,735.1 291.3,735.0 291.9,734.9 292.5,734.7 293.1,734.5 293.7,734.4 294.3,734.4 294.9,734.5 295.5,734.7 296.1,735.0 296.7,735.1 297.3,735.2 297.9,735.2 298.5,735.0 299.1,734.8 299.7,734.7 300.3,734.6 300.9,734.6 301.5,734.6 302.1,734.8 302.7,734.9 303.3,734.9 303.9,734.9 304.5,734.8 305.1,734.7 305.7,734.6 306.3,734.6 306.9,734.7 307.5,734.9 308.1,735.0 308.7,735.2 309.3,735.2 309.9,735.1 310.5,734.9 311.1,734.6 311.7,734.4 312.3,734.3 312.9,734.3 313.5,734.5 314.1,734.7 314.7,735.0 315.3,735.2 315.9,735.2 316.5,735.1 317.1,735.0 317.7,734.8 318.3,735.3 319.0,729.0 319.8,719.7 320.5,708.9 321.2,697.0 322.0,684.1 322.7,670.4 323.3,677.6 323.9,683.2 324.4,687.2 325.0,689.6 325.6,690.4 326.1,690.3 326.7,689.9 327.3,689.7 327.9,689.7 328.5,689.9 329.1,690.2 329.7,690.6 330.3,690.9 330.9,691.0 331.5,690.9 332.1,690.8 332.7,690.5 333.3,690.2 333.9,690.1 334.5,690.1 335.1,690.2 335.7,690.4 336.3,690.5 336.9,690.5 337.5,690.5 338.1,690.4 338.7,690.2 339.3,690.1 339.9,690.1 340.5,690.2 341.1,690.4 341.7,690.7 342.3,690.8 342.9,690.9 343.5,690.8 344.1,690.6 344.7,690.3 345.3,690.1 345.9,689.9 346.5,689.9 347.1,690.1 347.7,690.3 348.3,690.5 348.9,690.7 349.5,690.7 350.1,690.7 350.7,690.5 351.3,690.4 351.9,690.3 352.5,690.3 353.1,690.3 353.7,690.4 354.3,690.5 354.9,690.6 355.5,690.5 356.1,690.4 356.7,690.2 357.3,690.1 357.9,690.0 358.5,690.1 359.1,690.2 359.7,690.5 360.3,690.7 360.9,690.9 361.5,690.9 362.1,690.8 362.7,690.6 363.3,690.3 363.9,690.1 364.5,690.0 365.1,690.0 365.7,690.1 366.3,690.3 366.9,690.5 367.5,690.6 368.1,690.6 368.7,690.5 369.3,690.4 369.9,690.3 370.5,690.2 371.1,690.3 371.7,690.5 372.3,690.7 372.9,690.8 373.5,690.8 374.1,690.6 374.7,690.4 375.3,690.1 375.9,689.8 376.5,689.7 377.1,689.8 377.7,690.1 378.3,690.5 378.9,690.9 379.5,691.1 380.1,691.1 380.7,690.9 381.3,690.6 381.9,690.3 382.5,690.0 383.1,689.9 383.7,690.0 384.3,690.2 384.9,690.4 385.5,690.6 386.1,690.6 386.7,690.5 387.3,690.3 387.9,690.1 388.5,690.0 389.1,690.1 389.7,690.4 390.3,690.7 390.9,691.0 391.5,690.9 391.9,684.8 392.4,675.8 392.9,665.3 393.3,653.7 393.8,641.2 394.2,627.9 394.8,637.8 395.5,645.5 396.1,651.0 396.8,654.3 397.4,655.4 397.9,655.1 398.5,655.2 399.1,655.5 399.7,655.9 400.3,656.1 400.9,656.2 401.5,655.9 402.1,655.4 402.7,654.9 403.3,654.4 403.9,654.2 404.5,654.4 405.1,654.8 405.7,655.4 406.3,656.0 406.9,656.4 407.5,656.5 408.1,656.2 408.7,655.8 409.3,655.3 409.9,654.9 410.5,654.7 411.1,654.9 411.7,655.2 412.3,655.5 412.9,655.7 413.5,655.7 414.1,655.5 414.7,655.1 415.3,654.8 415.9,654.7 416.5,654.9 417.1,655.3 417.7,655.8 418.3,656.4 418.9,656.6 419.5,656.6 420.1,656.1 420.7,655.4 421.3,654.7 421.9,654.2 422.5,654.0 423.1,654.2 423.7,654.8 424.3,655.5 424.9,656.0 425.5,656.4 426.1,656.3 426.7,656.0 427.3,655.6 427.9,655.2 428.5,655.0 429.1,655.0 429.7,655.3 430.3,655.7 430.9,655.9 431.5,655.9 432.1,655.6 432.7,655.1 433.3,654.7 433.9,654.4 434.5,654.4 435.1,654.7 435.7,655.3 436.3,656.0 436.9,656.5 437.5,656.8 438.1,656.6 438.7,656.1 439.3,655.4 439.9,654.8 440.5,654.4 441.1,654.3 441.7,654.6 442.3,655.0 442.9,655.5 443.5,655.9 444.1,656.0 444.7,655.8 445.3,655.5 445.9,655.2 446.5,655.1 447.1,655.1 447.7,655.4 448.3,655.8 448.9,656.1 449.5,656.2 450.1,656.0 450.7,655.5 451.3,655.0 451.9,654.5 452.5,654.2 453.1,654.3 453.7,654.7 454.3,655.3 454.9,656.0 455.5,656.4 456.1,656.6 456.7,656.4 457.3,655.9 457.9,655.4 458.5,654.9 459.1,654.7 459.7,654.8 460.3,655.0 460.9,655.3 461.5,655.6 462.1,655.7 462.7,655.6 463.3,655.3 463.9,655.1 464.5,654.9 465.1,655.0 465.7,655.2 466.3,655.6 466.5,655.9 467.1,652.0 467.7,646.4 468.4,639.8 469.0,632.5 469.6,624.7 470.2,616.3 470.9,621.2 471.6,625.0 472.2,627.7 472.9,629.4 473.6,629.9 474.1,628.9 474.7,630.0 475.3,630.9 475.9,631.1 476.5,630.7 477.1,630.0 477.7,629.3 478.3,628.9 478.9,629.1 479.5,629.9 480.1,630.9 480.7,631.8 481.3,632.1 481.9,631.7 482.5,630.6 483.1,629.1 483.7,627.7 484.3,626.9 484.9,627.0 485.5,627.9 486.1,629.3 486.7,630.9 487.3,632.1 487.9,632.6 488.5,632.3 489.1,631.3 489.7,630.1 490.3,629.0 490.9,628.5 491.5,628.5 492.1,629.1 492.7,629.8 493.3,630.4 493.9,630.6 494.5,630.3 495.1,629.7 495.7,629.0 496.3,628.6 496.9,628.7 497.5,629.3 498.1,630.3 498.7,631.2 499.3,631.9 499.9,631.9 500.5,631.4 501.1,630.4 501.7,629.3 502.3,628.3 502.9,627.9 503.5,628.0 504.1,628.7 504.7,629.6 505.3,630.5 505.9,631.0 506.5,631.1 507.1,630.9 507.7,630.3 508.3,629.8 508.9,629.5 509.5,629.4 510.1,629.6 510.7,630.0 511.3,630.4 511.9,630.5 512.5,630.3 513.1,629.8 513.7,629.3 514.3,628.9 514.9,628.7 515.5,628.9 516.1,629.5 516.7,630.2 517.3,630.9 517.9,631.3 518.5,631.3 519.1,630.9 519.7,630.2 520.3,629.5 520.9,629.0 521.5,628.8 522.1,628.9 522.7,629.3 523.3,629.8 523.9,630.2 524.5,630.4 525.1,630.4 525.7,630.1 526.3,629.8 526.9,630.4 527.7,627.1 528.4,622.3 529.2,616.6 530.0,610.4 530.7,603.7 531.5,596.5 532.2,600.2 532.9,603.2 533.6,605.2 534.3,606.5 535.0,606.9 535.5,610.8 536.1,609.9 536.7,608.2 537.3,606.3 537.9,604.7 538.5,604.1 539.1,604.3 539.7,605.3 540.3,606.5 540.9,607.6 541.5,608.1 542.1,608.0 542.7,607.3 543.3,606.6 543.9,606.0 544.5,606.0 545.1,606.6 545.7,607.5 546.3,608.4 546.9,608.9 547.5,608.7 548.1,608.0 548.7,606.7 549.3,605.5 549.9,604.6 550.5,604.3 551.1,604.8 551.7,605.9 552.3,607.2 552.9,608.3 553.5,609.0 554.1,608.9 554.7,608.3 555.3,607.4 555.9,606.5 556.5,606.0 557.1,605.8 557.7,606.1 558.3,606.6 558.9,607.1 559.5,607.4 560.1,607.3 560.7,606.9 561.3,606.5 561.9,606.1 562.5,606.0 563.1,606.3 563.7,606.9 564.3,607.5 564.9,608.1 565.5,608.3 566.1,608.1 566.7,607.5 567.3,606.8 567.9,606.1 568.5,605.6 569.1,605.6 569.7,605.9 570.3,606.4 570.9,607.1 571.5,607.6 572.1,607.8 572.7,607.7 573.3,607.4 573.9,607.0 574.5,606.7 575.1,606.5 575.7,606.6 576.3,606.9 576.9,607.1 577.5,607.3 578.1,607.3 578.7,607.0 579.3,606.6 579.9,606.2 580.5,606.0 581.1,606.1 581.7,606.4 582.3,606.9 582.9,607.5 583.5,607.9 584.1,608.1 584.7,607.9 585.3,607.4 585.9,606.8 586.5,606.2 587.1,605.9 587.7,605.9 588.3,606.2 588.9,606.6 589.5,607.1 590.1,607.4 590.7,607.5 591.3,607.3 591.9,607.0 592.5,606.7 593.1,606.5 593.7,606.6 594.3,607.0 594.9,607.4 595.5,607.7 596.1,607.8 596.7,607.5 597.3,607.0 597.9,606.3 598.5,605.6 599.1,605.4 599.7,605.5 600.3,606.1 600.9,606.9 601.5,607.8 602.1,608.4 602.7,608.6 603.3,607.4 604.3,605.4 605.3,602.4 606.2,599.0 607.2,595.2 608.2,591.1 609.2,586.7 609.7,587.7 610.1,588.6 610.6,589.1 611.0,589.5 611.5,589.6 612.0,588.2 612.6,587.6 613.2,587.7 613.8,588.3 614.4,589.4 615.0,590.6 615.6,591.5 616.2,591.8 616.8,591.6 617.4,590.7 618.0,589.7 618.6,588.7 619.2,588.1 619.8,588.0 620.4,588.4 621.0,589.1 621.6,589.8 622.2,590.2 622.8,590.3 623.4,590.0 624.0,589.6 624.6,589.2 625.2,589.0 625.8,589.2 626.4,589.7 627.0,590.3 627.6,590.8 628.2,590.9 628.8,590.6 629.4,589.9 630.0,589.0 630.6,588.2 631.2,587.7 631.8,587.8 632.4,588.5 633.0,589.4 633.6,590.4 634.2,591.1 634.8,591.4 635.4,591.1 636.0,590.4 636.6,589.6 637.2,588.9 637.8,588.6 638.4,588.7 639.0,589.1 639.6,589.6 640.2,590.0 640.8,590.1 641.4,589.8 642.0,589.3 642.6,588.8 643.2,588.5 643.8,588.6 644.4,589.2 645.0,590.1 645.6,591.0 646.2,591.6 646.8,591.6 647.4,591.0 648.0,589.9 648.6,588.7 649.2,587.7 649.8,587.3 650.4,587.5 651.0,588.3 651.6,589.4 652.2,590.5 652.8,591.2 653.4,591.3 654.0,590.9 654.6,590.1 655.2,589.3 655.8,588.9 656.4,588.9 657.0,589.3 657.6,589.9 658.2,590.5 658.8,590.6 659.4,590.2 660.0,589.3 660.6,588.4 661.2,587.6 661.8,587.4 662.4,587.9 663.0,589.1 663.6,590.5 664.2,591.8 664.8,592.6 665.4,592.5 666.0,591.5 666.6,590.0 667.2,588.5 667.8,587.4 668.4,587.0 669.0,587.4 669.6,588.4 670.2,589.6 670.8,590.6 671.4,591.0 672.0,590.8 672.6,590.1 673.2,589.3 673.8,588.8 674.4,588.8 675.0,589.4 675.6,590.3 676.2,591.2 676.8,591.6 677.4,591.3 678.0,590.3 678.5,590.1 679.0,588.5 679.4,586.1 679.9,583.3 680.3,580.2 680.8,576.8 681.2,573.3 681.7,574.0 682.1,574.6 682.6,575.0 683.0,575.2 683.5,575.3 684.0,574.6 684.6,575.1 685.2,575.8 685.8,576.3 686.4,576.5 687.0,576.1 687.6,575.2 688.2,574.0 688.8,573.1 689.4,572.8 690.0,573.3 690.6,574.4 691.2,575.9 691.8,577.4 692.4,578.3 693.0,578.3 693.6,577.5 694.2,576.1 694.8,574.5 695.4,573.3 696.0,572.8 696.6,573.1 697.2,574.0 697.8,575.2 698.4,576.1 699.0,576.5 699.6,576.3 700.2,575.6 700.8,574.8 701.4,574.3 702.0,574.4 702.6,575.1 703.2,576.1 703.8,577.1 704.4,577.7 705.0,577.4 705.6,576.4 706.2,574.8 706.8,573.2 707.4,572.1 708.0,571.9 708.6,572.7 709.2,574.2 709.8,576.0 710.4,577.6 711.0,578.4 711.6,578.3 712.2,577.3 712.8,575.9 713.4,574.5 714.0,573.7 714.6,573.5 715.2,574.1 715.8,575.0 716.4,575.8 717.0,576.1 717.6,575.9 718.2,575.2 718.8,574.3 719.4,573.7 720.0,573.6 720.6,574.3 721.2,575.5 721.8,576.8 722.4,577.8 723.0,578.2 723.6,577.6 724.2,576.4 724.8,574.8 725.4,573.3 726.0,572.5 726.6,572.4 727.2,573.2 727.8,574.5 728.4,575.9 729.0,576.9 729.6,577.3 730.2,577.0 730.8,576.3 731.4,575.3 732.0,574.7 732.6,574.4 733.2,574.7 733.8,575.4 734.4,576.0 735.0,576.3 735.6,576.1 736.2,575.4 736.8,574.5 737.4,573.6 738.0,573.2 738.6,573.5 739.2,574.3 739.8,575.6 740.4,576.8 741.0,577.6 741.6,577.8 742.2,577.2 742.8,576.2 743.4,574.9 744.0,573.9 744.6,573.3 745.2,573.4 745.8,574.1 746.4,574.9 747.0,575.7 747.6,576.2 748.2,576.2 748.8,575.8 749.4,575.3 750.0,574.9 750.6,574.7 751.2,575.0 751.5,575.8 752.5,574.2 753.6,571.9 754.6,569.2 755.6,566.2 756.7,563.0 757.7,559.6 758.2,560.4 758.6,561.1 759.1,561.5 759.5,561.8 760.0,561.9 760.5,562.4 761.1,564.2 761.7,565.0 762.3,564.7 762.9,563.5 763.5,562.0 764.1,560.9 764.7,560.6 765.3,561.1 765.9,562.3 766.5,563.4 767.1,564.0 767.7,563.7 768.3,562.4 768.9,560.5 769.5,558.8 770.1,557.8 770.7,558.1 771.3,559.6 771.9,561.9 772.5,564.3 773.1,566.1 773.7,566.7 774.3,565.9 774.9,564.0 775.5,561.7 776.1,559.6 776.7,558.5 777.3,558.5 777.9,559.5 778.5,561.0 779.1,562.5 779.7,563.4 780.3,563.4 780.9,562.7 781.5,561.7 782.1,560.9 782.7,560.7 783.3,561.2 783.9,562.3 784.5,563.6 785.1,564.4 785.7,564.5 786.3,563.7 786.9,562.1 787.5,560.4 788.1,558.9 788.7,558.3 789.3,558.8 789.9,560.1 790.5,561.9 791.1,563.6 791.7,564.7 792.3,564.9 792.9,564.2 793.5,563.0 794.1,561.7 794.7,560.7 795.3,560.3 795.9,560.6 796.5,561.3 797.1,562.0 797.7,562.5 798.3,562.5 798.9,562.1 799.5,561.4 800.1,560.8 800.7,560.6 801.3,560.9 801.9,561.6 802.5,562.6 803.1,563.5 803.7,564.0 804.3,563.8 804.9,563.1 805.5,562.0 806.1,560.9 806.7,560.1 807.3,559.9 807.9,560.2 808.5,561.0 809.1,561.9 809.7,562.7 810.3,563.1 810.9,563.1 811.5,562.7 812.1,562.2 812.7,561.7 813.3,561.4 813.9,561.5 814.5,561.8 815.1,562.2 815.7,562.4 816.3,562.5 816.9,562.2 817.5,561.7 818.1,561.1 818.7,560.8 819.3,560.7 819.9,561.1 820.5,561.7 821.1,562.5 821.7,563.1 822.3,563.4 822.9,563.2 823.5,562.7 824.1,562.0 824.7,561.3 825.3,560.8 825.9,560.7 826.5,561.0 827.1,561.4 827.7,562.0 828.3,562.4 828.9,562.5 829.5,562.4 830.1,562.0 830.7,561.7 831.3,561.5 831.9,561.6 832.5,561.9 833.1,562.3 833.7,562.7 834.3,562.8 834.9,562.6 835.5,562.1 836.1,561.5 836.7,560.8 837.3,560.5 837.9,560.5 838.5,561.0 839.1,561.7 839.7,562.5 840.3,563.1 840.9,563.4 841.5,563.2 842.1,562.6 842.7,561.9 843.3,561.3 843.9,561.0 844.5,561.0 845.1,561.3 845.7,561.8 846.3,562.2 846.9,562.3 847.5,562.2 848.1,561.8 848.7,561.4 849.3,561.2 849.9,561.2 850.5,561.6 851.1,562.2 851.7,562.9 852.3,563.3 852.9,563.4 853.5,562.9 854.1,562.2 854.7,561.3 855.3,560.5 855.9,560.2 856.5,560.3 857.1,560.9 857.7,561.7 858.3,562.6 858.9,563.1 859.5,563.2 860.1,562.9 860.7,562.4 861.3,561.8 861.9,561.4 862.5,561.3 863.1,561.5 863.7,561.9 864.3,562.3 864.9,562.4 865.5,562.3 866.1,561.8 866.7,561.3 867.3,560.9 867.9,560.7 868.5,561.0 869.1,561.6 869.7,562.4 870.3,563.1 870.9,563.4 871.5,563.4 872.1,562.9 872.7,562.2 873.3,561.3 873.9,560.7 874.5,560.5 875.1,560.7 875.7,561.2 876.3,561.8 876.9,562.4 877.5,562.7 878.1,562.6 878.7,562.3 879.3,561.9 879.9,561.6 880.5,561.5 881.1,561.7 881.7,562.1 882.3,562.5 882.9,562.7 883.5,562.6 884.1,562.2 884.7,561.6 885.3,561.0 885.9,560.6 886.5,560.6 887.1,560.9 887.7,561.6 888.3,562.4 888.9,563.0 889.5,563.3 890.1,563.2 890.7,562.7 891.3,562.1 891.9,561.5 892.5,561.1 893.1,561.0 893.7,561.2 894.3,561.6 894.9,562.0 895.5,562.2 896.1,562.2 896.7,562.0 897.3,561.7 897.9,561.5 898.5,561.4 899.1,561.6 899.7,562.0 900.3,562.4 900.9,562.7 901.5,562.8 902.1,562.6 902.7,562.2 903.3,561.6 903.9,561.1 904.5,560.8 905.1,560.9 905.7,561.2 906.3,561.7 906.9,562.2 907.5,562.6 908.1,562.7 908.7,562.6 909.3,562.3 909.9,561.9 910.5,561.6 911.1,561.5 911.7,561.6 912.3,561.8 912.9,562.0 913.5,562.1 914.1,562.1 914.7,562.0 915.3,561.7 915.9,561.5 916.5,561.4 917.1,561.4 917.7,561.7 918.3,562.0 918.9,562.4 919.5,562.6 920.1,562.6 920.7,562.5 921.3,562.1 921.9,561.7 922.5,561.4 923.1,561.2 923.7,561.3 924.3,561.5 924.9,561.8 925.5,562.1 926.1,562.3 926.7,562.3 927.3,562.2 927.9,562.0 928.5,561.8 929.1,561.7 929.7,561.8 930.3,561.9 930.9,562.1 931.5,562.2 932.1,562.2 932.7,562.1 933.3,561.9 933.9,561.6 934.5,561.3 935.1,561.3 935.7,561.4 936.3,561.7 936.9,562.1 937.5,562.4 938.1,562.6 938.7,562.6 939.3,562.4 939.6,562.4"/>
<polyline fill="none" stroke="#ea7d32" stroke-width="2.2" stroke-linejoin="round" stroke-linecap="round" points="178.6,972.5 180.0,930.0 181.5,880.0 183.0,830.0 184.6,797.0 185.8,788.3 188.0,789.6 190.8,790.6 196.0,790.6 201.3,789.8 206.0,790.6 211.7,792.2 215.0,791.5 216.8,780.0 218.2,760.0 219.4,735.0 220.6,712.0 222.0,704.0 223.8,706.0 225.5,714.0 227.2,720.5 229.0,722.0 232.0,721.2 234.6,720.4 239.0,719.8 243.0,720.2 248.0,719.4 253.3,718.5 257.5,719.8 261.7,720.2 266.0,719.6 270.5,719.8 272.4,717.0 274.0,706.0 275.6,692.0 277.0,684.0 278.6,681.3 279.0,681.3 279.4,681.3 280.0,681.2 280.6,681.2 281.3,681.2 282.0,681.2 282.7,681.2 283.4,681.3 284.2,681.5 285.0,681.5 285.8,681.6 286.7,681.5 287.6,681.3 288.6,681.1 289.7,680.8 290.8,680.5 291.9,680.1 293.0,679.8 294.2,679.4 295.3,678.9 296.6,678.4 297.8,677.9 299.0,677.5 300.2,677.4 301.4,677.5 302.5,677.8 303.6,678.2 304.7,678.7 305.9,679.2 307.0,679.6 308.2,680.0 309.3,680.4 310.5,680.8 311.7,681.2 312.8,681.4 313.8,681.5 314.7,681.4 315.5,681.1 316.3,680.7 317.0,680.3 317.8,679.9 318.5,679.6 319.3,679.3 320.0,679.0 320.7,678.7 321.5,678.5 322.2,678.3 323.0,678.4 323.8,678.7 324.6,679.1 325.5,679.7 326.4,680.3 327.2,680.9 328.0,681.4 328.7,681.9 329.4,682.3 330.1,682.8 330.8,683.2 331.6,683.4 332.5,683.5 333.6,683.3 334.8,683.0 336.1,682.5 337.4,682.0 338.7,681.5 340.0,681.0 341.2,680.6 342.5,680.1 343.7,679.6 344.9,679.2 346.0,678.9 347.0,678.8 347.9,678.9 348.7,679.2 349.4,679.6 350.1,680.0 350.8,680.4 351.5,680.8 352.2,681.2 352.8,681.6 353.4,682.0 354.1,682.4 354.7,682.5 355.4,682.5 356.1,682.2 356.9,681.6 357.6,680.9 358.4,680.1 359.2,679.3 360.0,678.6 360.8,677.9 361.6,677.2 362.4,676.4 363.2,675.8 364.0,675.3 364.8,675.2 365.6,675.4 366.5,675.9 367.4,676.7 368.3,677.5 369.1,678.3 370.0,679.0 370.9,679.7 371.8,680.5 372.7,681.3 373.5,682.0 374.4,682.4 375.2,682.6 376.0,682.4 376.7,681.9 377.4,681.1 378.1,680.3 378.8,679.5 379.5,678.8 380.2,678.1 380.8,677.3 381.4,676.6 382.0,675.9 382.6,675.5 383.3,675.4 384.0,675.7 384.8,676.3 385.6,677.2 386.4,678.2 387.2,679.1 388.0,680.0 388.8,680.9 389.6,681.8 390.4,682.8 391.2,683.7 392.0,684.3 392.8,684.6 393.6,684.5 394.4,683.9 395.2,683.2 396.0,682.4 396.7,681.5 397.5,680.8 398.3,680.1 399.2,679.5 400.0,678.8 400.8,678.1 401.5,677.6 402.0,677.2 403.0,677.4 404.1,677.9 405.1,678.6 406.1,679.6 407.2,680.5 408.2,681.5 409.2,682.2 410.3,682.7 411.3,682.9 412.3,682.7 413.4,682.2 414.4,681.3 415.5,680.2 416.5,679.1 417.5,677.9 418.6,676.8 419.6,675.9 420.7,675.4 421.7,675.2 422.7,675.4 423.8,675.9 424.8,676.8 425.8,677.9 426.9,679.0 427.9,680.2 428.9,681.3 429.9,682.2 431.0,682.7 432.0,682.9 433.1,682.8 434.1,682.5 435.1,682.1 436.2,681.5 437.2,680.8 438.3,680.0 439.4,679.2 440.4,678.6 441.5,677.9 442.5,677.5 443.6,677.2 444.6,677.1 445.6,677.3 446.7,677.8 447.7,678.6 448.8,679.7 449.8,680.7 450.9,681.8 451.9,682.6 453.0,683.1 454.0,683.3 455.0,683.1 456.1,682.4 457.1,681.4 458.1,680.2 459.2,678.9 460.2,677.7 461.2,676.7 462.3,676.0 463.3,675.8 464.3,675.9 465.4,676.2 466.4,676.7 467.5,677.4 468.5,678.2 469.6,679.1 470.6,680.0 471.7,680.9 472.7,681.7 473.8,682.4 474.8,682.9 475.9,683.2 476.9,683.3 477.9,682.6 478.9,680.6 480.0,678.3 481.0,676.3 482.0,675.6 483.0,675.7 484.1,676.2 485.1,676.9 486.2,677.7 487.2,678.7 488.3,679.8 489.3,680.8 490.4,681.6 491.4,682.3 492.5,682.8 493.5,682.9 494.6,682.7 495.6,682.2 496.7,681.5 497.7,680.5 498.8,679.5 499.8,678.6 500.9,677.8 501.9,677.3 503.0,677.1 504.0,677.3 505.1,678.0 506.1,679.0 507.1,680.3 508.1,681.8 509.2,683.3 510.2,684.6 511.2,685.6 512.3,686.3 513.3,686.5 514.3,686.3 515.4,685.7 516.4,684.7 517.5,683.5 518.5,682.1 519.6,680.7 520.6,679.5 521.7,678.5 522.8,677.9 523.8,677.7 524.8,677.9 525.9,678.5 526.9,679.4 527.9,680.6 529.0,681.7 530.0,682.9 531.0,683.8 532.1,684.4 533.1,684.6 534.1,684.4 535.2,683.7 536.2,682.6 537.3,681.3 538.3,679.8 539.3,678.3 540.4,677.0 541.4,675.9 542.5,675.2 543.5,675.0 544.6,675.2 545.6,675.9 546.7,677.0 547.7,678.3 548.8,679.6 549.8,680.9 550.9,682.0 551.9,682.7 553.0,682.9 554.0,682.8 555.1,682.3 556.1,681.7 557.1,680.9 558.1,680.0 559.2,679.1 560.2,678.3 561.2,677.7 562.3,677.2 563.3,677.1 564.3,677.4 565.4,678.1 566.4,679.4 567.5,680.9 568.5,682.7 569.6,684.6 570.6,686.4 571.7,687.9 572.7,689.2 573.8,689.9 574.8,690.2 575.8,689.6 576.9,687.7 577.9,685.1 578.9,682.2 579.9,679.6 581.0,677.7 582.0,677.1 583.1,677.5 584.2,678.5 585.2,680.1 586.3,682.2 587.4,684.4 588.5,686.7 589.6,688.8 590.6,690.4 591.7,691.4 592.8,691.8 593.9,691.4 594.9,690.2 596.0,688.5 597.0,686.3 598.1,684.0 599.1,681.8 600.2,680.1 601.2,678.9 602.3,678.5 603.3,678.9 604.4,679.9 605.4,681.6 606.5,683.6 607.5,685.9 608.6,688.2 609.6,690.2 610.7,691.9 611.8,692.9 612.8,693.3 613.9,692.9 614.9,691.6 616.0,689.7 617.1,687.3 618.1,684.8 619.2,682.4 620.3,680.5 621.3,679.2 622.4,678.8 623.4,679.1 624.5,680.1 625.5,681.7 626.6,683.6 627.6,685.5 628.7,687.4 629.7,689.0 630.8,690.0 631.8,690.3 632.8,690.0 633.9,689.1 634.9,687.8 636.0,686.1 637.0,684.2 638.0,682.4 639.1,680.7 640.1,679.4 641.2,678.5 642.2,678.2 643.2,678.8 644.3,680.3 645.3,682.7 646.4,685.5 647.4,688.3 648.4,690.7 649.5,692.2 650.5,692.8 651.5,692.5 652.5,691.5 653.6,689.9 654.6,687.9 655.6,685.7 656.6,683.3 657.6,681.1 658.6,679.1 659.7,677.5 660.7,676.5 661.7,676.2 662.7,676.7 663.8,678.1 664.8,680.1 665.9,682.5 666.9,685.0 667.9,687.0 669.0,688.4 670.0,688.9 671.0,688.7 672.1,687.9 673.1,686.8 674.2,685.2 675.2,683.5 676.2,681.6 677.3,679.7 678.3,677.9 679.4,676.4 680.4,675.3 681.5,674.5 682.5,674.3 683.6,674.4 684.6,674.9 685.7,675.5 686.8,676.4 687.8,677.4 688.9,678.4 689.9,679.4 691.0,680.3 692.1,680.9 693.1,681.4 694.2,681.5 695.2,681.4 696.3,681.1 697.3,680.7 698.3,680.2 699.4,679.6 700.4,679.1 701.4,678.7 702.5,678.4 703.5,678.3 704.5,678.6 705.6,679.4 706.6,680.6 707.7,681.9 708.8,683.3 709.8,684.5 710.9,685.3 711.9,685.6 712.9,685.4 714.0,684.8 715.0,683.9 716.1,682.8 717.1,681.4 718.1,679.9 719.2,678.4 720.2,677.1 721.3,675.9 722.3,675.0 723.4,674.4 724.4,674.2 725.4,674.8 726.5,676.5 727.5,678.9 728.5,681.2 729.6,682.9 730.6,683.5 731.8,682.8 733.0,681.0 734.1,678.7 735.3,676.9 736.5,676.2 737.6,676.8 738.7,678.3 739.8,680.4 740.8,682.5 741.9,684.0 743.0,684.6 744.0,684.3 745.0,683.5 746.0,682.1 747.0,680.3 748.0,678.3 749.0,676.1 750.0,673.8 751.0,671.8 752.0,670.0 753.0,668.6 754.0,667.8 755.0,667.5 756.1,668.7 757.3,672.0 758.5,676.6 759.6,681.1 760.8,684.5 761.9,685.7 763.0,685.3 764.1,684.1 765.1,682.2 766.2,679.7 767.3,677.0 768.4,674.0 769.5,671.3 770.6,668.8 771.6,666.9 772.7,665.7 773.8,665.3 774.9,666.7 776.1,670.6 777.2,675.9 778.4,681.3 779.6,685.2 780.7,686.6 781.8,686.2 782.8,685.1 783.9,683.4 785.0,681.3 786.1,678.8 787.1,676.1 788.2,673.6 789.3,671.5 790.4,669.8 791.4,668.7 792.5,668.3 793.6,669.0 794.8,671.1 796.0,674.1 797.1,677.6 798.2,680.9 799.4,683.5"/>
<path d="M185.6 787.7L208 777.3M208.3 797.5L211.7 819.8H218M244.6 716.3L248.1 698.1M297.5 737L298.8 763.5H304.4M322.7 670.4L340.4 657.5M369.6 690.8L376.3 705.6H382.5M394.2 627.7L398.8 610.8H405.4M447 656.3L450.8 667.5H456M470.2 616.3L486.3 610M517.5 630.4L542 644M584.2 608.3L585.2 631H590.6M609.8 586.3L640 575.8M657.7 590.8L663.3 617.8H669.2M680 573L683.3 553.5H689.6M763.5 559.6L765 540.2H771.7M750.4 577.3L766 607.8H771.7M842.5 562L854.2 592.8H860M799.4 683.5L808.8 713.9H815" stroke="#a0a0a0" stroke-width="1.1" fill="none" stroke-linejoin="round"/>
<text x="166.5" y="976.4" text-anchor="end" font-size="10.9" fill="#4a4a4a">0</text>
<text x="166.5" y="913.0" text-anchor="end" font-size="10.9" fill="#4a4a4a">0,02</text>
<text x="166.5" y="849.6" text-anchor="end" font-size="10.9" fill="#4a4a4a">0,04</text>
<text x="166.5" y="786.2" text-anchor="end" font-size="10.9" fill="#4a4a4a">0,06</text>
<text x="166.5" y="722.8" text-anchor="end" font-size="10.9" fill="#4a4a4a">0,08</text>
<text x="166.5" y="659.4" text-anchor="end" font-size="10.9" fill="#4a4a4a">0,1</text>
<text x="166.5" y="596.0" text-anchor="end" font-size="10.9" fill="#4a4a4a">0,12</text>
<text x="166.5" y="532.6" text-anchor="end" font-size="10.9" fill="#4a4a4a">0,14</text>
<text x="178.3" y="993.4" text-anchor="middle" font-size="10.9" fill="#4a4a4a">0,00E+00</text>
<text x="287.7" y="993.4" text-anchor="middle" font-size="10.9" fill="#4a4a4a">5,00E-05</text>
<text x="397.1" y="993.4" text-anchor="middle" font-size="10.9" fill="#4a4a4a">1,00E-04</text>
<text x="506.4" y="993.4" text-anchor="middle" font-size="10.9" fill="#4a4a4a">1,50E-04</text>
<text x="615.8" y="993.4" text-anchor="middle" font-size="10.9" fill="#4a4a4a">2,00E-04</text>
<text x="725.2" y="993.4" text-anchor="middle" font-size="10.9" fill="#4a4a4a">2,50E-04</text>
<text x="834.5" y="993.4" text-anchor="middle" font-size="10.9" fill="#4a4a4a">3,00E-04</text>
<text x="943.9" y="993.4" text-anchor="middle" font-size="10.9" fill="#4a4a4a">3,50E-04</text>
<text x="1053.3" y="993.4" text-anchor="middle" font-size="10.9" fill="#4a4a4a">4,00E-04</text>
<text x="616.5" y="1014.0" text-anchor="middle" font-size="11.2" fill="#4a4a4a">Время, с</text>
<text transform="translate(137,751) rotate(-90)" text-anchor="middle" font-size="11.6" fill="#4a4a4a" textLength="289" lengthAdjust="spacing">Величина деформации поверхностного слоя, мм</text>
<text x="208.0" y="757.4" text-anchor="middle" font-size="11.5" fill="#4a4a4a">0,058</text>
<text x="208.0" y="773.1" text-anchor="middle" font-size="11.5" fill="#4a4a4a">Удар №1</text>
<text x="248.2" y="677.9" text-anchor="middle" font-size="11.5" fill="#4a4a4a">0,080</text>
<text x="248.2" y="693.3" text-anchor="middle" font-size="11.5" fill="#4a4a4a">Удар №2</text>
<text x="340.6" y="636.6" text-anchor="middle" font-size="11.5" fill="#4a4a4a">0,095</text>
<text x="340.6" y="652.9" text-anchor="middle" font-size="11.5" fill="#4a4a4a">Удар №3</text>
<text x="433.8" y="607.9" text-anchor="middle" font-size="11.5" fill="#4a4a4a">0,108</text>
<text x="433.8" y="623.9" text-anchor="middle" font-size="11.5" fill="#4a4a4a">Удар №4</text>
<text x="486.0" y="590.1" text-anchor="middle" font-size="11.5" fill="#4a4a4a">0,112</text>
<text x="486.0" y="605.4" text-anchor="middle" font-size="11.5" fill="#4a4a4a">Удар №5</text>
<text x="565.6" y="574.1" text-anchor="middle" font-size="11.5" fill="#4a4a4a">0,119</text>
<text x="565.6" y="590.8" text-anchor="middle" font-size="11.5" fill="#4a4a4a">Удар №6</text>
<text x="639.7" y="557.1" text-anchor="middle" font-size="11.5" fill="#4a4a4a">0,122</text>
<text x="639.7" y="572.4" text-anchor="middle" font-size="11.5" fill="#4a4a4a">Удар №7</text>
<text x="718.0" y="550.8" text-anchor="middle" font-size="11.5" fill="#4a4a4a">0,126</text>
<text x="718.0" y="565.8" text-anchor="middle" font-size="11.5" fill="#4a4a4a">Удар №8</text>
<text x="799.6" y="536.6" text-anchor="middle" font-size="11.5" fill="#4a4a4a">0,130</text>
<text x="799.6" y="552.9" text-anchor="middle" font-size="11.5" fill="#4a4a4a">Удар №9</text>
<text x="891.8" y="589.1" text-anchor="middle" font-size="11.5" fill="#4a4a4a">0,129</text>
<text x="891.8" y="604.9" text-anchor="middle" font-size="11.5" fill="#4a4a4a">Удар №10</text>
<text x="222.0" y="825.4" text-anchor="start" font-size="11.5" fill="#4a4a4a">0,056</text>
<text x="309.2" y="768.3" text-anchor="start" font-size="11.5" fill="#4a4a4a">0,075</text>
<text x="387.3" y="711.3" text-anchor="start" font-size="11.5" fill="#4a4a4a">0,089</text>
<text x="460.2" y="671.8" text-anchor="start" font-size="11.5" fill="#4a4a4a">0,100</text>
<text x="529.0" y="658.9" text-anchor="start" font-size="11.5" fill="#4a4a4a">0,108</text>
<text x="596.3" y="635.6" text-anchor="start" font-size="11.5" fill="#4a4a4a">0,115</text>
<text x="673.3" y="622.1" text-anchor="start" font-size="11.5" fill="#4a4a4a">0,120</text>
<text x="777.0" y="614.6" text-anchor="start" font-size="17" font-weight="bold" fill="#333">1</text>
<text x="819.5" y="721.2" text-anchor="start" font-size="17" font-weight="bold" fill="#333">2</text>
</svg>
<!--/FIG5-->

<div class="cap" style="top:1024.7px;transform:scaleX(1.047);">Рис. 5. Изменение толщины упрочненного слоя от времени упрочнения:  1 – без учета соударений
с отраженными микрошариками;  2 – с учетом повторных соударений</div>

<div class="col" style="left:86px;top:1101.5px;">
<p class="i">Для наглядности сопоставлена динамика из-</p>
<p>менения толщины упрочненного поверхностного</p>
<p>слоя. На графике на рис. 5 представлены результа-</p>
<p>ты расчета модели без учета соударений с отра-</p>
<p>женными ударными телами и с учетом повторных</p>
<p>соударений надвигающегося фронта ударных тел с</p>
<p class="l">отраженным.</p>
<p class="i">Из представленных расчетов следует, что</p>
<p>при учете повторных соударений (график 2) отра-</p>
<p>женные ударные тела сталкиваются со вторым</p>
<p>фронтом ударных тел и повторно деформируют</p>
<p>упрочняемую поверхность, увеличивая ее дефор-</p>
<p>мационный слой с 0,05 до <span class="nb">0,08 мм.</span> При подходе</p>
<p>третьего ударного фронта осуществляется соуда-</p>
<p>рение с отскакивающими шариками и очередное</p>
<p>деформирование упрочняемой поверхности с уве-</p>
<p>личением глубины деформирования до <span class="nb">0,095 мм.</span></p>
<p>Последующие соударения не приводят к увеличе-</p>
<p>нию толщины деформационного слоя. В целом его</p>
<p>итоговая толщина составляет примерно <span class="nb">0,095 мм,</span> в</p>
</div>

<div class="col" style="left:623px;top:1101.5px;">
<p>то время как в основной модели толщина упроч-</p>
<p>ненного слоя около <span class="nb">0,13 мм.</span> Таким образом, отра-</p>
<p>женные (отскочившие) ударные тела в виде</p>
<p>микрошариков затрудняют процесс упрочнения,</p>
<p>демпфируют ударное воздействие новых потоков</p>
<p>ударных тел, снижают их энергию ударного взаи-</p>
<p class="l">модействия.</p>
<p class="i">Из анализа этой модели следует, что при ус-</p>
<p>тановлении технологических условий упрочнения</p>
<p>поверхностей различных деталей следует разраба-</p>
<p>тывать и в дальнейшем использовать такие техно-</p>
<p>логические схемы, в которых угол атаки не позво-</p>
<p>ляет соприкасаться фронту ударных тел с фронтом</p>
<p class="l">отраженных.</p>
<p class="h" style="margin-top:26.2px;margin-bottom:7.8px;">Выводы</p>
<p class="i"><span class="nb">1. Модель</span> распределения упрочняющих</p>
<p>воздействий при ударном взаимодействии микро-</p>
<p>шариков и упрочняемой поверхности отражает</p>
</div>
</body>
</html>
